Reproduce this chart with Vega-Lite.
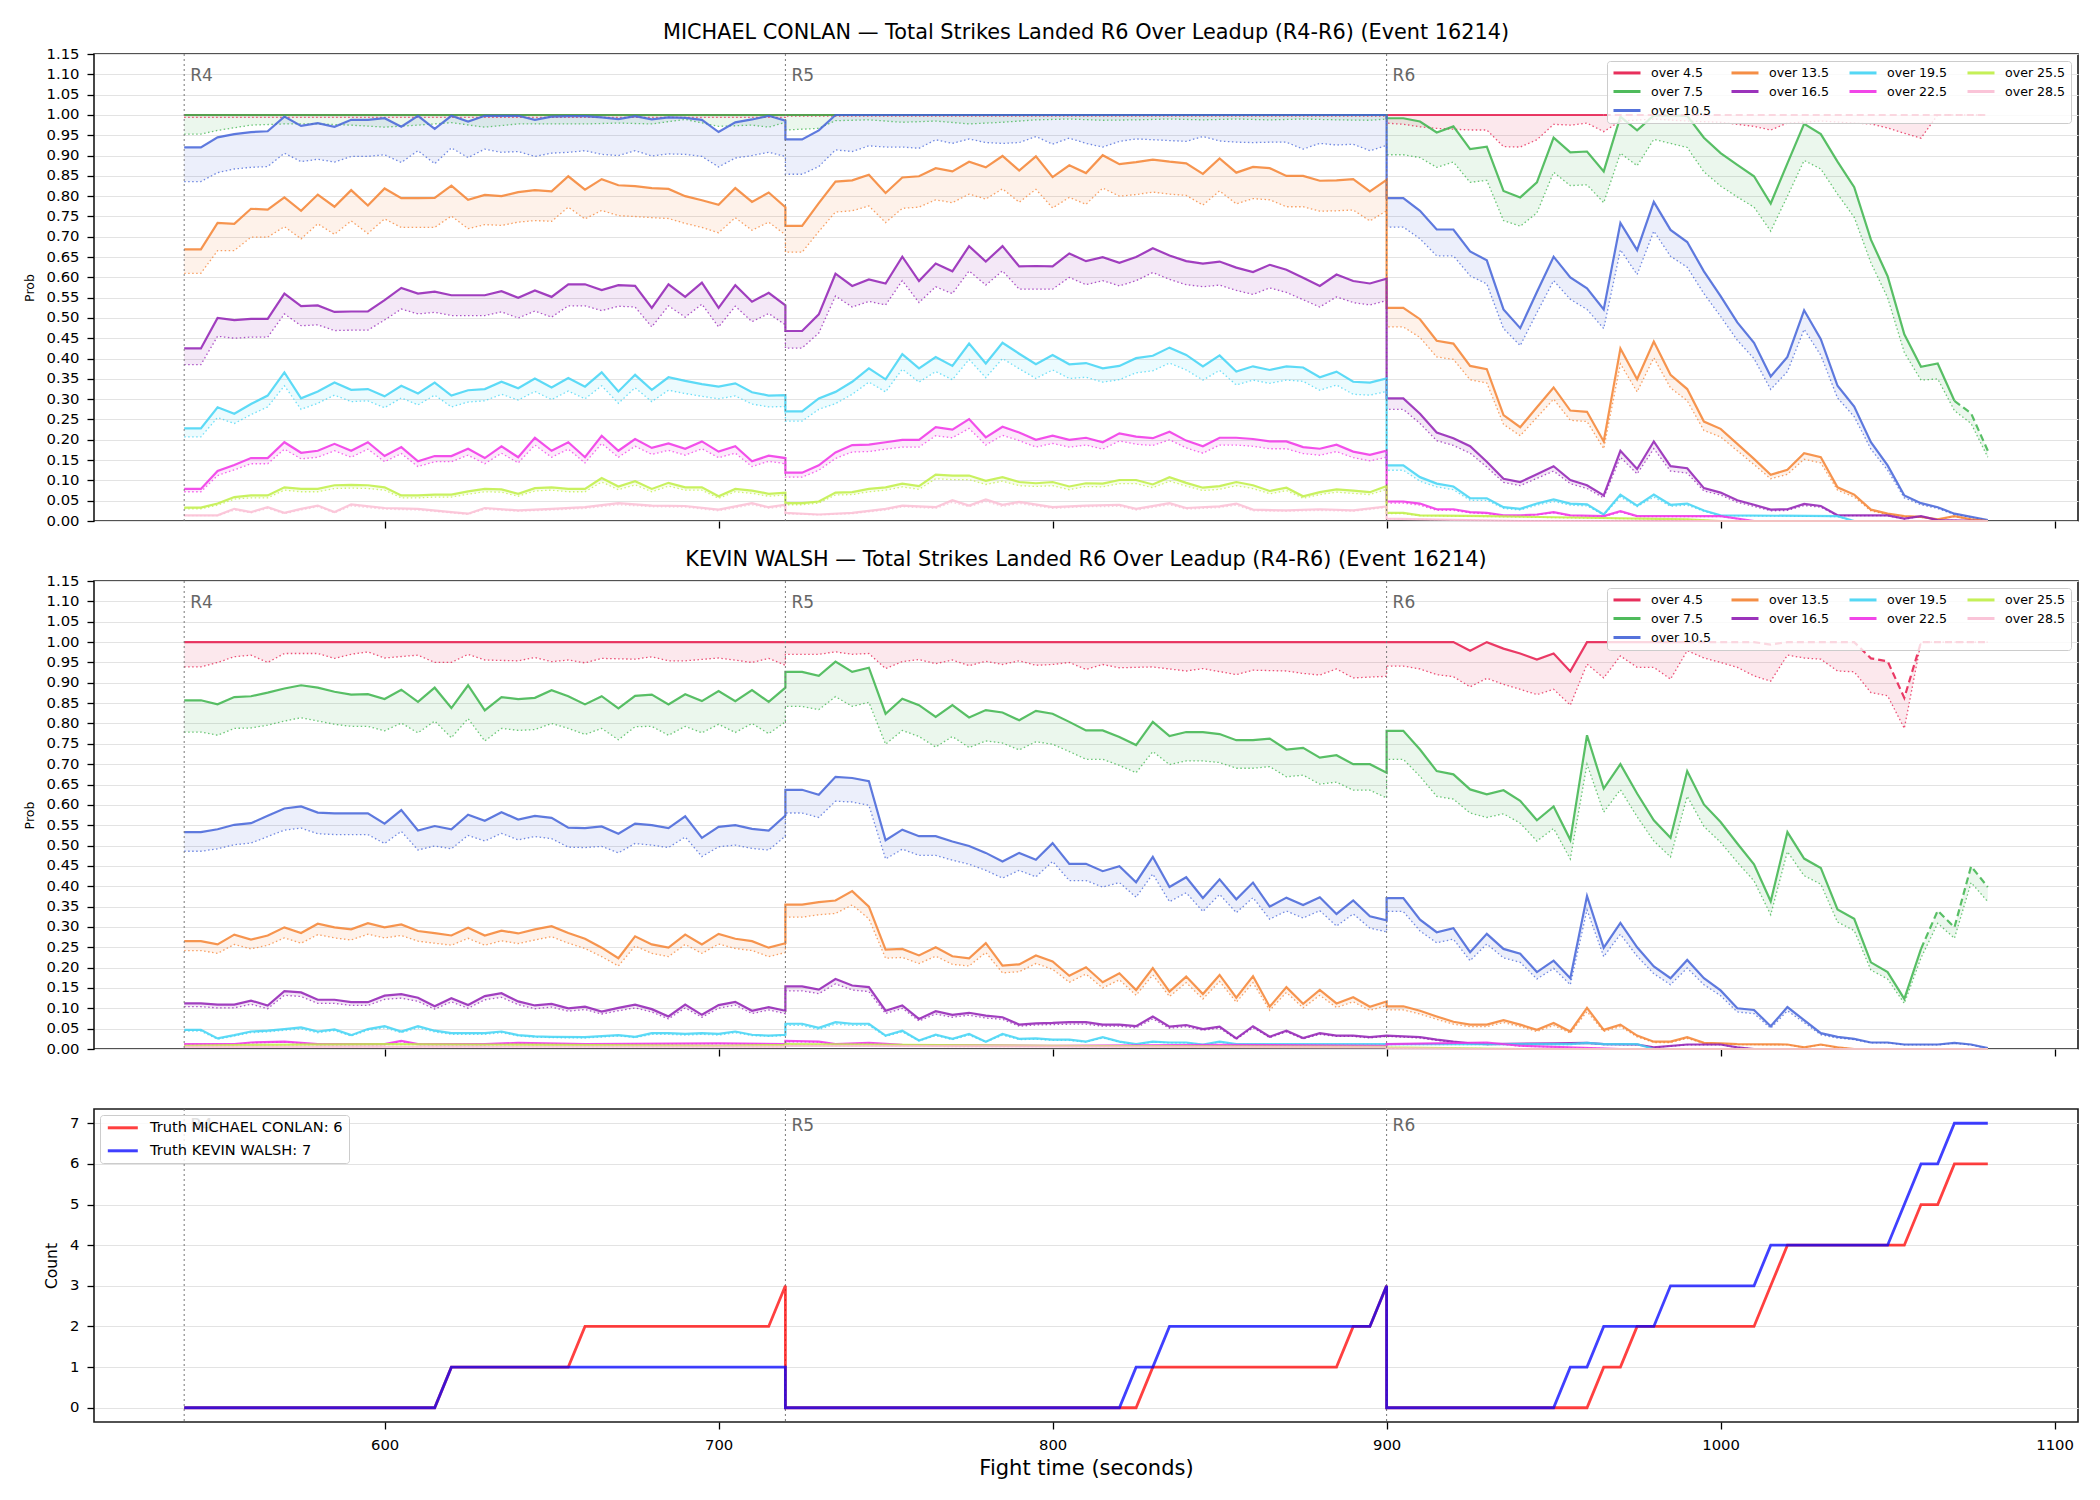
{
"$schema": "https://vega.github.io/schema/vega-lite/v6.json",
"background": "white",
"padding": {"left": 22, "top": 20, "right": 22, "bottom": 20},
"bounds": "flush",
"spacing": 60,
"config": {
  "font": "DejaVu Sans",
  "view": {"stroke": "#1a1a1a", "strokeWidth": 1.6},
  "axis": {"domain": false, "labelFont": "DejaVu Sans", "labelFontSize": 14.8, "labelColor": "#000", "tickColor": "#000", "tickSize": 7, "tickWidth": 1.3, "labelPadding": 8, "gridColor": "#e3e3e3", "gridWidth": 1, "titleFont": "DejaVu Sans", "titleFontWeight": "normal", "titleColor": "#000"},
  "axisY": {"grid": true, "labelOverlap": false, "labelBound": false},
  "axisX": {"grid": false},
  "title": {"fontSize": 20.8, "fontWeight": "normal", "color": "#000", "offset": 2.6, "anchor": "middle", "font": "DejaVu Sans"}
},
"resolve": {"scale": {"fill": "independent", "stroke": "independent"}, "legend": {"stroke": "independent", "fill": "independent"}},
"datasets": {
"rounds": [{"t":540,"r":"R4"},{"t":720,"r":"R5"},{"t":900,"r":"R6"}],
"truth": [
{"w":"Truth MICHAEL CONLAN: 6","t":540,"n":0},{"w":"Truth MICHAEL CONLAN: 6","t":615,"n":0},{"w":"Truth MICHAEL CONLAN: 6","t":620,"n":1},{"w":"Truth MICHAEL CONLAN: 6","t":655,"n":1},{"w":"Truth MICHAEL CONLAN: 6","t":660,"n":2},{"w":"Truth MICHAEL CONLAN: 6","t":715,"n":2},{"w":"Truth MICHAEL CONLAN: 6","t":720,"n":3},{"w":"Truth MICHAEL CONLAN: 6","t":720,"n":0},{"w":"Truth MICHAEL CONLAN: 6","t":825,"n":0},{"w":"Truth MICHAEL CONLAN: 6","t":830,"n":1},{"w":"Truth MICHAEL CONLAN: 6","t":885,"n":1},{"w":"Truth MICHAEL CONLAN: 6","t":890,"n":2},{"w":"Truth MICHAEL CONLAN: 6","t":895,"n":2},{"w":"Truth MICHAEL CONLAN: 6","t":900,"n":3},{"w":"Truth MICHAEL CONLAN: 6","t":900,"n":0},{"w":"Truth MICHAEL CONLAN: 6","t":960,"n":0},{"w":"Truth MICHAEL CONLAN: 6","t":965,"n":1},{"w":"Truth MICHAEL CONLAN: 6","t":970,"n":1},{"w":"Truth MICHAEL CONLAN: 6","t":975,"n":2},{"w":"Truth MICHAEL CONLAN: 6","t":1010,"n":2},{"w":"Truth MICHAEL CONLAN: 6","t":1015,"n":3},{"w":"Truth MICHAEL CONLAN: 6","t":1020,"n":4},{"w":"Truth MICHAEL CONLAN: 6","t":1055,"n":4},{"w":"Truth MICHAEL CONLAN: 6","t":1060,"n":5},{"w":"Truth MICHAEL CONLAN: 6","t":1065,"n":5},{"w":"Truth MICHAEL CONLAN: 6","t":1070,"n":6},{"w":"Truth MICHAEL CONLAN: 6","t":1080,"n":6},
{"w":"Truth KEVIN WALSH: 7","t":540,"n":0},{"w":"Truth KEVIN WALSH: 7","t":615,"n":0},{"w":"Truth KEVIN WALSH: 7","t":620,"n":1},{"w":"Truth KEVIN WALSH: 7","t":720,"n":1},{"w":"Truth KEVIN WALSH: 7","t":720,"n":0},{"w":"Truth KEVIN WALSH: 7","t":820,"n":0},{"w":"Truth KEVIN WALSH: 7","t":825,"n":1},{"w":"Truth KEVIN WALSH: 7","t":830,"n":1},{"w":"Truth KEVIN WALSH: 7","t":835,"n":2},{"w":"Truth KEVIN WALSH: 7","t":895,"n":2},{"w":"Truth KEVIN WALSH: 7","t":900,"n":3},{"w":"Truth KEVIN WALSH: 7","t":900,"n":0},{"w":"Truth KEVIN WALSH: 7","t":950,"n":0},{"w":"Truth KEVIN WALSH: 7","t":955,"n":1},{"w":"Truth KEVIN WALSH: 7","t":960,"n":1},{"w":"Truth KEVIN WALSH: 7","t":965,"n":2},{"w":"Truth KEVIN WALSH: 7","t":980,"n":2},{"w":"Truth KEVIN WALSH: 7","t":985,"n":3},{"w":"Truth KEVIN WALSH: 7","t":1010,"n":3},{"w":"Truth KEVIN WALSH: 7","t":1015,"n":4},{"w":"Truth KEVIN WALSH: 7","t":1050,"n":4},{"w":"Truth KEVIN WALSH: 7","t":1055,"n":5},{"w":"Truth KEVIN WALSH: 7","t":1060,"n":6},{"w":"Truth KEVIN WALSH: 7","t":1065,"n":6},{"w":"Truth KEVIN WALSH: 7","t":1070,"n":7},{"w":"Truth KEVIN WALSH: 7","t":1080,"n":7}
],
"conlan": [
{"k":4.5,"t":540,"h":1,"l":0.994},{"k":4.5,"t":720,"h":1,"l":0.994},{"k":4.5,"t":720,"h":1,"l":0.997},{"k":4.5,"t":900,"h":1,"l":0.997},
{"k":4.5,"t":900,"h":1,"l":0.98},{"k":4.5,"t":905,"h":1,"l":0.977},{"k":4.5,"t":910,"h":1,"l":0.971},{"k":4.5,"t":915,"h":1,"l":0.967},{"k":4.5,"t":920,"h":1,"l":0.965},{"k":4.5,"t":925,"h":1,"l":0.963},{"k":4.5,"t":930,"h":1,"l":0.963},{"k":4.5,"t":935,"h":1,"l":0.922},{"k":4.5,"t":940,"h":1,"l":0.921},{"k":4.5,"t":945,"h":1,"l":0.939},{"k":4.5,"t":950,"h":1,"l":0.977},{"k":4.5,"t":955,"h":1,"l":0.975},{"k":4.5,"t":960,"h":1,"l":0.98},{"k":4.5,"t":965,"h":1,"l":0.959,"d":2},{"k":4.5,"t":970,"h":1,"l":0.985,"d":1},{"k":4.5,"t":980,"h":1,"l":0.99,"d":1},{"k":4.5,"t":990,"h":1,"l":0.985,"d":1},{"k":4.5,"t":1000,"h":1,"l":0.982,"d":1},{"k":4.5,"t":1010,"h":1,"l":0.972,"d":1},{"k":4.5,"t":1015,"h":1,"l":0.963,"d":1},{"k":4.5,"t":1020,"h":1,"l":0.98,"d":1},{"k":4.5,"t":1030,"h":1,"l":0.985,"d":1},{"k":4.5,"t":1040,"h":1,"l":0.98,"d":1},{"k":4.5,"t":1045,"h":1,"l":0.978,"d":1},{"k":4.5,"t":1050,"h":1,"l":0.968,"d":1},{"k":4.5,"t":1055,"h":1,"l":0.955,"d":1},{"k":4.5,"t":1060,"h":1,"l":0.943,"d":1},{"k":4.5,"t":1065,"h":1,"l":1,"d":1},{"k":4.5,"t":1080,"h":1,"l":1,"d":1},
{"k":7.5,"t":540,"h":1,"l":0.953},{"k":7.5,"t":545,"h":1,"l":0.953},{"k":7.5,"t":550,"h":1,"l":0.962},{"k":7.5,"t":560,"h":1,"l":0.975},{"k":7.5,"t":570,"h":1,"l":0.978},{"k":7.5,"t":580,"h":1,"l":0.978},{"k":7.5,"t":590,"h":1,"l":0.975},{"k":7.5,"t":600,"h":1,"l":0.97},{"k":7.5,"t":610,"h":1,"l":0.975},{"k":7.5,"t":620,"h":1,"l":0.981},{"k":7.5,"t":630,"h":1,"l":0.97},{"k":7.5,"t":640,"h":1,"l":0.978},{"k":7.5,"t":650,"h":1,"l":0.978},{"k":7.5,"t":660,"h":1,"l":0.978},{"k":7.5,"t":670,"h":1,"l":0.98},{"k":7.5,"t":680,"h":1,"l":0.978},{"k":7.5,"t":690,"h":1,"l":0.989},{"k":7.5,"t":700,"h":1,"l":0.972},{"k":7.5,"t":710,"h":1,"l":0.975},{"k":7.5,"t":715,"h":1,"l":0.97},{"k":7.5,"t":720,"h":1,"l":0.982},
{"k":7.5,"t":720,"h":1,"l":0.963},{"k":7.5,"t":725,"h":1,"l":0.965},{"k":7.5,"t":730,"h":1,"l":0.967},{"k":7.5,"t":735,"h":1,"l":0.986},{"k":7.5,"t":745,"h":1,"l":0.988},{"k":7.5,"t":755,"h":1,"l":0.982},{"k":7.5,"t":765,"h":1,"l":0.985},{"k":7.5,"t":775,"h":1,"l":0.978},{"k":7.5,"t":785,"h":1,"l":0.982},{"k":7.5,"t":795,"h":1,"l":0.988},{"k":7.5,"t":805,"h":1,"l":0.99},{"k":7.5,"t":815,"h":1,"l":0.987},{"k":7.5,"t":825,"h":1,"l":0.988},{"k":7.5,"t":835,"h":1,"l":0.99},{"k":7.5,"t":845,"h":1,"l":0.988},{"k":7.5,"t":855,"h":1,"l":0.99},{"k":7.5,"t":865,"h":1,"l":0.988},{"k":7.5,"t":875,"h":1,"l":0.99},{"k":7.5,"t":885,"h":1,"l":0.988},{"k":7.5,"t":895,"h":1,"l":0.987},{"k":7.5,"t":900,"h":1,"l":0.99},
{"k":7.5,"t":900,"h":0.992,"l":0.902},{"k":7.5,"t":905,"h":0.992,"l":0.902},{"k":7.5,"t":910,"h":0.984,"l":0.895},{"k":7.5,"t":915,"h":0.957,"l":0.871},{"k":7.5,"t":920,"h":0.972,"l":0.884},{"k":7.5,"t":925,"h":0.916,"l":0.834},{"k":7.5,"t":930,"h":0.922,"l":0.839},{"k":7.5,"t":935,"h":0.813,"l":0.74},{"k":7.5,"t":940,"h":0.797,"l":0.726},{"k":7.5,"t":945,"h":0.834,"l":0.759},{"k":7.5,"t":950,"h":0.944,"l":0.859},{"k":7.5,"t":955,"h":0.908,"l":0.826},{"k":7.5,"t":960,"h":0.91,"l":0.828},{"k":7.5,"t":965,"h":0.861,"l":0.784},{"k":7.5,"t":970,"h":0.996,"l":0.906},{"k":7.5,"t":975,"h":0.962,"l":0.875},{"k":7.5,"t":980,"h":0.999,"l":0.94},{"k":7.5,"t":985,"h":0.999,"l":0.93},{"k":7.5,"t":990,"h":0.998,"l":0.92},{"k":7.5,"t":995,"h":0.944,"l":0.86},{"k":7.5,"t":1000,"h":0.906,"l":0.825},{"k":7.5,"t":1005,"h":0.877,"l":0.798},{"k":7.5,"t":1010,"h":0.849,"l":0.773},{"k":7.5,"t":1015,"h":0.782,"l":0.714},{"k":7.5,"t":1020,"h":0.881,"l":0.8},{"k":7.5,"t":1025,"h":0.978,"l":0.888},{"k":7.5,"t":1030,"h":0.953,"l":0.867},{"k":7.5,"t":1035,"h":0.885,"l":0.805},{"k":7.5,"t":1040,"h":0.822,"l":0.748},{"k":7.5,"t":1045,"h":0.693,"l":0.636},{"k":7.5,"t":1050,"h":0.603,"l":0.55},{"k":7.5,"t":1055,"h":0.46,"l":0.415},{"k":7.5,"t":1060,"h":0.38,"l":0.347},{"k":7.5,"t":1065,"h":0.388,"l":0.35},{"k":7.5,"t":1070,"h":0.296,"l":0.272,"d":2},{"k":7.5,"t":1075,"h":0.265,"l":0.24,"d":1},{"k":7.5,"t":1080,"h":0.173,"l":0.157,"d":1},
{"k":10.5,"t":540,"h":0.92,"l":0.836},{"k":10.5,"t":545,"h":0.92,"l":0.836},{"k":10.5,"t":550,"h":0.945,"l":0.858},{"k":10.5,"t":555,"h":0.953,"l":0.867},{"k":10.5,"t":560,"h":0.958,"l":0.871},{"k":10.5,"t":565,"h":0.96,"l":0.873},{"k":10.5,"t":570,"h":0.996,"l":0.906},{"k":10.5,"t":575,"h":0.973,"l":0.885},{"k":10.5,"t":580,"h":0.98,"l":0.891},{"k":10.5,"t":585,"h":0.971,"l":0.884},{"k":10.5,"t":590,"h":0.988,"l":0.898},{"k":10.5,"t":595,"h":0.988,"l":0.898},{"k":10.5,"t":600,"h":0.992,"l":0.902},{"k":10.5,"t":605,"h":0.971,"l":0.883},{"k":10.5,"t":610,"h":0.998,"l":0.912},{"k":10.5,"t":615,"h":0.966,"l":0.88},{"k":10.5,"t":620,"h":0.998,"l":0.919},{"k":10.5,"t":625,"h":0.984,"l":0.895},{"k":10.5,"t":630,"h":0.998,"l":0.916},{"k":10.5,"t":635,"h":0.998,"l":0.908},{"k":10.5,"t":640,"h":0.998,"l":0.91},{"k":10.5,"t":645,"h":0.988,"l":0.898},{"k":10.5,"t":650,"h":0.996,"l":0.906},{"k":10.5,"t":655,"h":0.997,"l":0.908},{"k":10.5,"t":660,"h":0.997,"l":0.912},{"k":10.5,"t":665,"h":0.994,"l":0.903},{"k":10.5,"t":670,"h":0.99,"l":0.9},{"k":10.5,"t":675,"h":0.997,"l":0.912},{"k":10.5,"t":680,"h":0.989,"l":0.899},{"k":10.5,"t":685,"h":0.994,"l":0.904},{"k":10.5,"t":690,"h":0.993,"l":0.903},{"k":10.5,"t":695,"h":0.988,"l":0.898},{"k":10.5,"t":700,"h":0.958,"l":0.872},{"k":10.5,"t":705,"h":0.982,"l":0.894},{"k":10.5,"t":710,"h":0.989,"l":0.9},{"k":10.5,"t":715,"h":0.998,"l":0.908},{"k":10.5,"t":720,"h":0.986,"l":0.898},
{"k":10.5,"t":720,"h":0.94,"l":0.854},{"k":10.5,"t":725,"h":0.94,"l":0.854},{"k":10.5,"t":730,"h":0.962,"l":0.873},{"k":10.5,"t":735,"h":1,"l":0.914},{"k":10.5,"t":740,"h":1,"l":0.91},{"k":10.5,"t":745,"h":1,"l":0.924},{"k":10.5,"t":750,"h":1,"l":0.921},{"k":10.5,"t":755,"h":1,"l":0.921},{"k":10.5,"t":760,"h":1,"l":0.918},{"k":10.5,"t":765,"h":1,"l":0.939},{"k":10.5,"t":770,"h":1,"l":0.93},{"k":10.5,"t":775,"h":1,"l":0.941},{"k":10.5,"t":780,"h":1,"l":0.932},{"k":10.5,"t":785,"h":1,"l":0.93},{"k":10.5,"t":790,"h":1,"l":0.932},{"k":10.5,"t":795,"h":1,"l":0.947},{"k":10.5,"t":800,"h":1,"l":0.928},{"k":10.5,"t":805,"h":1,"l":0.943},{"k":10.5,"t":810,"h":1,"l":0.93},{"k":10.5,"t":815,"h":1,"l":0.921},{"k":10.5,"t":820,"h":1,"l":0.935},{"k":10.5,"t":825,"h":1,"l":0.941},{"k":10.5,"t":830,"h":1,"l":0.939},{"k":10.5,"t":835,"h":1,"l":0.937},{"k":10.5,"t":840,"h":1,"l":0.935},{"k":10.5,"t":845,"h":1,"l":0.947},{"k":10.5,"t":850,"h":1,"l":0.936},{"k":10.5,"t":855,"h":1,"l":0.933},{"k":10.5,"t":860,"h":1,"l":0.932},{"k":10.5,"t":865,"h":1,"l":0.933},{"k":10.5,"t":870,"h":1,"l":0.933},{"k":10.5,"t":875,"h":1,"l":0.916},{"k":10.5,"t":880,"h":1,"l":0.93},{"k":10.5,"t":885,"h":1,"l":0.926},{"k":10.5,"t":890,"h":1,"l":0.928},{"k":10.5,"t":895,"h":1,"l":0.912},{"k":10.5,"t":900,"h":1,"l":0.925},
{"k":10.5,"t":900,"h":0.795,"l":0.724},{"k":10.5,"t":905,"h":0.795,"l":0.724},{"k":10.5,"t":910,"h":0.764,"l":0.695},{"k":10.5,"t":915,"h":0.718,"l":0.653},{"k":10.5,"t":920,"h":0.718,"l":0.653},{"k":10.5,"t":925,"h":0.664,"l":0.604},{"k":10.5,"t":930,"h":0.642,"l":0.584},{"k":10.5,"t":935,"h":0.521,"l":0.474},{"k":10.5,"t":940,"h":0.475,"l":0.432},{"k":10.5,"t":945,"h":0.564,"l":0.513},{"k":10.5,"t":950,"h":0.651,"l":0.592},{"k":10.5,"t":955,"h":0.6,"l":0.546},{"k":10.5,"t":960,"h":0.573,"l":0.521},{"k":10.5,"t":965,"h":0.521,"l":0.474},{"k":10.5,"t":970,"h":0.734,"l":0.668},{"k":10.5,"t":975,"h":0.667,"l":0.607},{"k":10.5,"t":980,"h":0.786,"l":0.714},{"k":10.5,"t":985,"h":0.717,"l":0.652},{"k":10.5,"t":990,"h":0.687,"l":0.625},{"k":10.5,"t":995,"h":0.615,"l":0.56},{"k":10.5,"t":1000,"h":0.554,"l":0.504},{"k":10.5,"t":1005,"h":0.489,"l":0.445},{"k":10.5,"t":1010,"h":0.439,"l":0.4},{"k":10.5,"t":1015,"h":0.356,"l":0.324},{"k":10.5,"t":1020,"h":0.404,"l":0.368},{"k":10.5,"t":1025,"h":0.519,"l":0.472},{"k":10.5,"t":1030,"h":0.448,"l":0.408},{"k":10.5,"t":1035,"h":0.333,"l":0.303},{"k":10.5,"t":1040,"h":0.282,"l":0.257},{"k":10.5,"t":1045,"h":0.194,"l":0.177},{"k":10.5,"t":1050,"h":0.137,"l":0.125},{"k":10.5,"t":1055,"h":0.063,"l":0.057},{"k":10.5,"t":1060,"h":0.044,"l":0.04},{"k":10.5,"t":1065,"h":0.034,"l":0.031},{"k":10.5,"t":1070,"h":0.018,"l":0.016},{"k":10.5,"t":1075,"h":0.01,"l":0.009},{"k":10.5,"t":1080,"h":0.002,"l":0.002},
{"k":13.5,"t":540,"h":0.669,"l":0.61},{"k":13.5,"t":545,"h":0.669,"l":0.61},{"k":13.5,"t":550,"h":0.734,"l":0.666},{"k":13.5,"t":555,"h":0.732,"l":0.666},{"k":13.5,"t":560,"h":0.769,"l":0.699},{"k":13.5,"t":565,"h":0.767,"l":0.699},{"k":13.5,"t":570,"h":0.797,"l":0.725},{"k":13.5,"t":575,"h":0.764,"l":0.695},{"k":13.5,"t":580,"h":0.804,"l":0.732},{"k":13.5,"t":585,"h":0.774,"l":0.706},{"k":13.5,"t":590,"h":0.815,"l":0.739},{"k":13.5,"t":595,"h":0.777,"l":0.708},{"k":13.5,"t":600,"h":0.819,"l":0.744},{"k":13.5,"t":605,"h":0.795,"l":0.723},{"k":13.5,"t":610,"h":0.795,"l":0.723},{"k":13.5,"t":615,"h":0.796,"l":0.723},{"k":13.5,"t":620,"h":0.826,"l":0.751},{"k":13.5,"t":625,"h":0.791,"l":0.72},{"k":13.5,"t":630,"h":0.803,"l":0.73},{"k":13.5,"t":635,"h":0.8,"l":0.728},{"k":13.5,"t":640,"h":0.81,"l":0.736},{"k":13.5,"t":645,"h":0.815,"l":0.74},{"k":13.5,"t":650,"h":0.812,"l":0.738},{"k":13.5,"t":655,"h":0.849,"l":0.773},{"k":13.5,"t":660,"h":0.816,"l":0.744},{"k":13.5,"t":665,"h":0.842,"l":0.765},{"k":13.5,"t":670,"h":0.827,"l":0.752},{"k":13.5,"t":675,"h":0.825,"l":0.75},{"k":13.5,"t":680,"h":0.82,"l":0.747},{"k":13.5,"t":685,"h":0.818,"l":0.745},{"k":13.5,"t":690,"h":0.8,"l":0.733},{"k":13.5,"t":695,"h":0.79,"l":0.723},{"k":13.5,"t":700,"h":0.779,"l":0.71},{"k":13.5,"t":705,"h":0.82,"l":0.747},{"k":13.5,"t":710,"h":0.786,"l":0.716},{"k":13.5,"t":715,"h":0.809,"l":0.736},{"k":13.5,"t":720,"h":0.773,"l":0.705},
{"k":13.5,"t":720,"h":0.727,"l":0.662},{"k":13.5,"t":725,"h":0.727,"l":0.662},{"k":13.5,"t":730,"h":0.783,"l":0.713},{"k":13.5,"t":735,"h":0.836,"l":0.761},{"k":13.5,"t":740,"h":0.839,"l":0.764},{"k":13.5,"t":745,"h":0.853,"l":0.776},{"k":13.5,"t":750,"h":0.808,"l":0.735},{"k":13.5,"t":755,"h":0.846,"l":0.77},{"k":13.5,"t":760,"h":0.849,"l":0.773},{"k":13.5,"t":765,"h":0.869,"l":0.791},{"k":13.5,"t":770,"h":0.861,"l":0.784},{"k":13.5,"t":775,"h":0.885,"l":0.805},{"k":13.5,"t":780,"h":0.871,"l":0.793},{"k":13.5,"t":785,"h":0.899,"l":0.818},{"k":13.5,"t":790,"h":0.863,"l":0.785},{"k":13.5,"t":795,"h":0.898,"l":0.817},{"k":13.5,"t":800,"h":0.847,"l":0.771},{"k":13.5,"t":805,"h":0.876,"l":0.797},{"k":13.5,"t":810,"h":0.857,"l":0.78},{"k":13.5,"t":815,"h":0.901,"l":0.82},{"k":13.5,"t":820,"h":0.879,"l":0.8},{"k":13.5,"t":825,"h":0.884,"l":0.804},{"k":13.5,"t":830,"h":0.89,"l":0.81},{"k":13.5,"t":835,"h":0.885,"l":0.805},{"k":13.5,"t":840,"h":0.881,"l":0.802},{"k":13.5,"t":845,"h":0.855,"l":0.778},{"k":13.5,"t":850,"h":0.893,"l":0.813},{"k":13.5,"t":855,"h":0.858,"l":0.781},{"k":13.5,"t":860,"h":0.872,"l":0.794},{"k":13.5,"t":865,"h":0.869,"l":0.791},{"k":13.5,"t":870,"h":0.85,"l":0.774},{"k":13.5,"t":875,"h":0.85,"l":0.774},{"k":13.5,"t":880,"h":0.838,"l":0.763},{"k":13.5,"t":885,"h":0.839,"l":0.764},{"k":13.5,"t":890,"h":0.842,"l":0.766},{"k":13.5,"t":895,"h":0.812,"l":0.739},{"k":13.5,"t":900,"h":0.84,"l":0.764},
{"k":13.5,"t":900,"h":0.525,"l":0.478},{"k":13.5,"t":905,"h":0.525,"l":0.478},{"k":13.5,"t":910,"h":0.497,"l":0.452},{"k":13.5,"t":915,"h":0.444,"l":0.404},{"k":13.5,"t":920,"h":0.437,"l":0.398},{"k":13.5,"t":925,"h":0.382,"l":0.348},{"k":13.5,"t":930,"h":0.374,"l":0.34},{"k":13.5,"t":935,"h":0.261,"l":0.238},{"k":13.5,"t":940,"h":0.231,"l":0.21},{"k":13.5,"t":945,"h":0.28,"l":0.255},{"k":13.5,"t":950,"h":0.329,"l":0.3},{"k":13.5,"t":955,"h":0.272,"l":0.248},{"k":13.5,"t":960,"h":0.269,"l":0.245},{"k":13.5,"t":965,"h":0.196,"l":0.178},{"k":13.5,"t":970,"h":0.425,"l":0.387},{"k":13.5,"t":975,"h":0.349,"l":0.318},{"k":13.5,"t":980,"h":0.442,"l":0.402},{"k":13.5,"t":985,"h":0.36,"l":0.328},{"k":13.5,"t":990,"h":0.325,"l":0.296},{"k":13.5,"t":995,"h":0.245,"l":0.223},{"k":13.5,"t":1000,"h":0.227,"l":0.207},{"k":13.5,"t":1005,"h":0.19,"l":0.173},{"k":13.5,"t":1010,"h":0.153,"l":0.139},{"k":13.5,"t":1015,"h":0.114,"l":0.104},{"k":13.5,"t":1020,"h":0.126,"l":0.115},{"k":13.5,"t":1025,"h":0.167,"l":0.152},{"k":13.5,"t":1030,"h":0.157,"l":0.143},{"k":13.5,"t":1035,"h":0.083,"l":0.076},{"k":13.5,"t":1040,"h":0.065,"l":0.059},{"k":13.5,"t":1045,"h":0.028,"l":0.025},{"k":13.5,"t":1050,"h":0.018,"l":0.016},{"k":13.5,"t":1055,"h":0.012,"l":0.011},{"k":13.5,"t":1060,"h":0.01,"l":0.009},{"k":13.5,"t":1065,"h":0.004,"l":0.004},{"k":13.5,"t":1070,"h":0.012,"l":0.011},{"k":13.5,"t":1075,"h":0.004,"l":0.004},{"k":13.5,"t":1080,"h":0,"l":0},
{"k":16.5,"t":540,"h":0.425,"l":0.385},{"k":16.5,"t":545,"h":0.425,"l":0.385},{"k":16.5,"t":550,"h":0.5,"l":0.455},{"k":16.5,"t":555,"h":0.495,"l":0.45},{"k":16.5,"t":560,"h":0.498,"l":0.453},{"k":16.5,"t":565,"h":0.498,"l":0.453},{"k":16.5,"t":570,"h":0.56,"l":0.51},{"k":16.5,"t":575,"h":0.529,"l":0.481},{"k":16.5,"t":580,"h":0.531,"l":0.483},{"k":16.5,"t":585,"h":0.515,"l":0.469},{"k":16.5,"t":590,"h":0.516,"l":0.47},{"k":16.5,"t":595,"h":0.516,"l":0.47},{"k":16.5,"t":600,"h":0.544,"l":0.495},{"k":16.5,"t":605,"h":0.574,"l":0.522},{"k":16.5,"t":610,"h":0.56,"l":0.51},{"k":16.5,"t":615,"h":0.565,"l":0.514},{"k":16.5,"t":620,"h":0.556,"l":0.506},{"k":16.5,"t":625,"h":0.556,"l":0.506},{"k":16.5,"t":630,"h":0.556,"l":0.506},{"k":16.5,"t":635,"h":0.566,"l":0.515},{"k":16.5,"t":640,"h":0.55,"l":0.5},{"k":16.5,"t":645,"h":0.568,"l":0.517},{"k":16.5,"t":650,"h":0.552,"l":0.502},{"k":16.5,"t":655,"h":0.583,"l":0.53},{"k":16.5,"t":660,"h":0.583,"l":0.53},{"k":16.5,"t":665,"h":0.569,"l":0.518},{"k":16.5,"t":670,"h":0.581,"l":0.529},{"k":16.5,"t":675,"h":0.579,"l":0.527},{"k":16.5,"t":680,"h":0.525,"l":0.478},{"k":16.5,"t":685,"h":0.583,"l":0.53},{"k":16.5,"t":690,"h":0.552,"l":0.502},{"k":16.5,"t":695,"h":0.587,"l":0.534},{"k":16.5,"t":700,"h":0.525,"l":0.478},{"k":16.5,"t":705,"h":0.581,"l":0.529},{"k":16.5,"t":710,"h":0.54,"l":0.491},{"k":16.5,"t":715,"h":0.562,"l":0.511},{"k":16.5,"t":720,"h":0.531,"l":0.483},
{"k":16.5,"t":720,"h":0.468,"l":0.426},{"k":16.5,"t":725,"h":0.468,"l":0.426},{"k":16.5,"t":730,"h":0.509,"l":0.463},{"k":16.5,"t":735,"h":0.609,"l":0.554},{"k":16.5,"t":740,"h":0.579,"l":0.527},{"k":16.5,"t":745,"h":0.595,"l":0.541},{"k":16.5,"t":750,"h":0.585,"l":0.532},{"k":16.5,"t":755,"h":0.651,"l":0.592},{"k":16.5,"t":760,"h":0.591,"l":0.538},{"k":16.5,"t":765,"h":0.634,"l":0.577},{"k":16.5,"t":770,"h":0.615,"l":0.56},{"k":16.5,"t":775,"h":0.677,"l":0.616},{"k":16.5,"t":780,"h":0.639,"l":0.581},{"k":16.5,"t":785,"h":0.677,"l":0.616},{"k":16.5,"t":790,"h":0.627,"l":0.571},{"k":16.5,"t":795,"h":0.628,"l":0.571},{"k":16.5,"t":800,"h":0.627,"l":0.571},{"k":16.5,"t":805,"h":0.659,"l":0.6},{"k":16.5,"t":810,"h":0.64,"l":0.582},{"k":16.5,"t":815,"h":0.65,"l":0.592},{"k":16.5,"t":820,"h":0.636,"l":0.579},{"k":16.5,"t":825,"h":0.65,"l":0.592},{"k":16.5,"t":830,"h":0.672,"l":0.612},{"k":16.5,"t":835,"h":0.654,"l":0.595},{"k":16.5,"t":840,"h":0.64,"l":0.582},{"k":16.5,"t":845,"h":0.634,"l":0.577},{"k":16.5,"t":850,"h":0.639,"l":0.581},{"k":16.5,"t":855,"h":0.624,"l":0.568},{"k":16.5,"t":860,"h":0.613,"l":0.558},{"k":16.5,"t":865,"h":0.631,"l":0.574},{"k":16.5,"t":870,"h":0.619,"l":0.563},{"k":16.5,"t":875,"h":0.599,"l":0.545},{"k":16.5,"t":880,"h":0.579,"l":0.527},{"k":16.5,"t":885,"h":0.607,"l":0.552},{"k":16.5,"t":890,"h":0.591,"l":0.538},{"k":16.5,"t":895,"h":0.585,"l":0.532},{"k":16.5,"t":900,"h":0.597,"l":0.543},
{"k":16.5,"t":900,"h":0.302,"l":0.275},{"k":16.5,"t":905,"h":0.302,"l":0.275},{"k":16.5,"t":910,"h":0.264,"l":0.24},{"k":16.5,"t":915,"h":0.218,"l":0.198},{"k":16.5,"t":920,"h":0.204,"l":0.186},{"k":16.5,"t":925,"h":0.184,"l":0.167},{"k":16.5,"t":930,"h":0.146,"l":0.133},{"k":16.5,"t":935,"h":0.104,"l":0.095},{"k":16.5,"t":940,"h":0.096,"l":0.087},{"k":16.5,"t":945,"h":0.115,"l":0.105},{"k":16.5,"t":950,"h":0.135,"l":0.123},{"k":16.5,"t":955,"h":0.101,"l":0.092},{"k":16.5,"t":960,"h":0.088,"l":0.08},{"k":16.5,"t":965,"h":0.063,"l":0.057},{"k":16.5,"t":970,"h":0.173,"l":0.157},{"k":16.5,"t":975,"h":0.128,"l":0.116},{"k":16.5,"t":980,"h":0.196,"l":0.178},{"k":16.5,"t":985,"h":0.135,"l":0.123},{"k":16.5,"t":990,"h":0.13,"l":0.118},{"k":16.5,"t":995,"h":0.081,"l":0.074},{"k":16.5,"t":1000,"h":0.07,"l":0.064},{"k":16.5,"t":1005,"h":0.051,"l":0.046},{"k":16.5,"t":1010,"h":0.04,"l":0.036},{"k":16.5,"t":1015,"h":0.028,"l":0.025},{"k":16.5,"t":1020,"h":0.029,"l":0.026},{"k":16.5,"t":1025,"h":0.042,"l":0.038},{"k":16.5,"t":1030,"h":0.037,"l":0.034},{"k":16.5,"t":1035,"h":0.014,"l":0.013},{"k":16.5,"t":1050,"h":0.014,"l":0.013},{"k":16.5,"t":1055,"h":0.006,"l":0.005},{"k":16.5,"t":1060,"h":0.012,"l":0.011},{"k":16.5,"t":1065,"h":0.002,"l":0.002},{"k":16.5,"t":1080,"h":0,"l":0},
{"k":19.5,"t":540,"h":0.228,"l":0.207},{"k":19.5,"t":545,"h":0.228,"l":0.207},{"k":19.5,"t":550,"h":0.28,"l":0.255},{"k":19.5,"t":555,"h":0.264,"l":0.24},{"k":19.5,"t":560,"h":0.288,"l":0.262},{"k":19.5,"t":565,"h":0.309,"l":0.281},{"k":19.5,"t":570,"h":0.366,"l":0.333},{"k":19.5,"t":575,"h":0.302,"l":0.275},{"k":19.5,"t":580,"h":0.319,"l":0.29},{"k":19.5,"t":585,"h":0.341,"l":0.31},{"k":19.5,"t":590,"h":0.323,"l":0.294},{"k":19.5,"t":595,"h":0.325,"l":0.296},{"k":19.5,"t":600,"h":0.307,"l":0.279},{"k":19.5,"t":605,"h":0.333,"l":0.303},{"k":19.5,"t":610,"h":0.314,"l":0.286},{"k":19.5,"t":615,"h":0.341,"l":0.31},{"k":19.5,"t":620,"h":0.309,"l":0.281},{"k":19.5,"t":625,"h":0.322,"l":0.293},{"k":19.5,"t":630,"h":0.325,"l":0.296},{"k":19.5,"t":635,"h":0.343,"l":0.312},{"k":19.5,"t":640,"h":0.327,"l":0.298},{"k":19.5,"t":645,"h":0.351,"l":0.319},{"k":19.5,"t":650,"h":0.329,"l":0.299},{"k":19.5,"t":655,"h":0.352,"l":0.32},{"k":19.5,"t":660,"h":0.331,"l":0.301},{"k":19.5,"t":665,"h":0.366,"l":0.333},{"k":19.5,"t":670,"h":0.319,"l":0.29},{"k":19.5,"t":675,"h":0.36,"l":0.328},{"k":19.5,"t":680,"h":0.323,"l":0.294},{"k":19.5,"t":685,"h":0.354,"l":0.322},{"k":19.5,"t":690,"h":0.345,"l":0.314},{"k":19.5,"t":695,"h":0.337,"l":0.307},{"k":19.5,"t":700,"h":0.331,"l":0.301},{"k":19.5,"t":705,"h":0.339,"l":0.308},{"k":19.5,"t":710,"h":0.317,"l":0.288},{"k":19.5,"t":715,"h":0.309,"l":0.281},{"k":19.5,"t":720,"h":0.31,"l":0.282},
{"k":19.5,"t":720,"h":0.27,"l":0.246},{"k":19.5,"t":725,"h":0.27,"l":0.246},{"k":19.5,"t":730,"h":0.302,"l":0.275},{"k":19.5,"t":735,"h":0.318,"l":0.289},{"k":19.5,"t":740,"h":0.343,"l":0.312},{"k":19.5,"t":745,"h":0.376,"l":0.342},{"k":19.5,"t":750,"h":0.349,"l":0.318},{"k":19.5,"t":755,"h":0.411,"l":0.374},{"k":19.5,"t":760,"h":0.376,"l":0.342},{"k":19.5,"t":765,"h":0.404,"l":0.368},{"k":19.5,"t":770,"h":0.382,"l":0.348},{"k":19.5,"t":775,"h":0.437,"l":0.398},{"k":19.5,"t":780,"h":0.388,"l":0.353},{"k":19.5,"t":785,"h":0.439,"l":0.4},{"k":19.5,"t":790,"h":0.412,"l":0.375},{"k":19.5,"t":795,"h":0.386,"l":0.351},{"k":19.5,"t":800,"h":0.409,"l":0.372},{"k":19.5,"t":805,"h":0.386,"l":0.351},{"k":19.5,"t":810,"h":0.389,"l":0.354},{"k":19.5,"t":815,"h":0.376,"l":0.342},{"k":19.5,"t":820,"h":0.382,"l":0.348},{"k":19.5,"t":825,"h":0.401,"l":0.365},{"k":19.5,"t":830,"h":0.407,"l":0.37},{"k":19.5,"t":835,"h":0.427,"l":0.389},{"k":19.5,"t":840,"h":0.409,"l":0.372},{"k":19.5,"t":845,"h":0.381,"l":0.347},{"k":19.5,"t":850,"h":0.408,"l":0.371},{"k":19.5,"t":855,"h":0.368,"l":0.335},{"k":19.5,"t":860,"h":0.381,"l":0.347},{"k":19.5,"t":865,"h":0.372,"l":0.339},{"k":19.5,"t":870,"h":0.381,"l":0.347},{"k":19.5,"t":875,"h":0.378,"l":0.344},{"k":19.5,"t":880,"h":0.354,"l":0.322},{"k":19.5,"t":885,"h":0.368,"l":0.335},{"k":19.5,"t":890,"h":0.343,"l":0.312},{"k":19.5,"t":895,"h":0.341,"l":0.31},{"k":19.5,"t":900,"h":0.351,"l":0.319},
{"k":19.5,"t":900,"h":0.137,"l":0.125},{"k":19.5,"t":905,"h":0.137,"l":0.125},{"k":19.5,"t":910,"h":0.108,"l":0.098},{"k":19.5,"t":915,"h":0.092,"l":0.084},{"k":19.5,"t":920,"h":0.085,"l":0.077},{"k":19.5,"t":925,"h":0.056,"l":0.051},{"k":19.5,"t":930,"h":0.056,"l":0.051},{"k":19.5,"t":935,"h":0.034,"l":0.031},{"k":19.5,"t":940,"h":0.03,"l":0.027},{"k":19.5,"t":945,"h":0.043,"l":0.039},{"k":19.5,"t":950,"h":0.053,"l":0.048},{"k":19.5,"t":955,"h":0.043,"l":0.039},{"k":19.5,"t":960,"h":0.041,"l":0.037},{"k":19.5,"t":965,"h":0.016,"l":0.015},{"k":19.5,"t":970,"h":0.065,"l":0.059},{"k":19.5,"t":975,"h":0.038,"l":0.035},{"k":19.5,"t":980,"h":0.065,"l":0.059},{"k":19.5,"t":985,"h":0.04,"l":0.036},{"k":19.5,"t":990,"h":0.043,"l":0.039},{"k":19.5,"t":995,"h":0.026,"l":0.024},{"k":19.5,"t":1000,"h":0.014,"l":0.013},{"k":19.5,"t":1035,"h":0.012,"l":0.011},{"k":19.5,"t":1040,"h":0,"l":0},{"k":19.5,"t":1080,"h":0,"l":0},
{"k":22.5,"t":540,"h":0.079,"l":0.072},{"k":22.5,"t":545,"h":0.079,"l":0.072},{"k":22.5,"t":550,"h":0.123,"l":0.112},{"k":22.5,"t":555,"h":0.138,"l":0.126},{"k":22.5,"t":560,"h":0.155,"l":0.141},{"k":22.5,"t":565,"h":0.155,"l":0.141},{"k":22.5,"t":570,"h":0.194,"l":0.177},{"k":22.5,"t":575,"h":0.168,"l":0.153},{"k":22.5,"t":580,"h":0.173,"l":0.157},{"k":22.5,"t":585,"h":0.19,"l":0.173},{"k":22.5,"t":590,"h":0.173,"l":0.157},{"k":22.5,"t":595,"h":0.194,"l":0.177},{"k":22.5,"t":600,"h":0.16,"l":0.146},{"k":22.5,"t":605,"h":0.182,"l":0.166},{"k":22.5,"t":610,"h":0.147,"l":0.134},{"k":22.5,"t":615,"h":0.16,"l":0.146},{"k":22.5,"t":620,"h":0.16,"l":0.146},{"k":22.5,"t":625,"h":0.178,"l":0.162},{"k":22.5,"t":630,"h":0.155,"l":0.141},{"k":22.5,"t":635,"h":0.184,"l":0.167},{"k":22.5,"t":640,"h":0.157,"l":0.143},{"k":22.5,"t":645,"h":0.205,"l":0.187},{"k":22.5,"t":650,"h":0.173,"l":0.157},{"k":22.5,"t":655,"h":0.194,"l":0.177},{"k":22.5,"t":660,"h":0.157,"l":0.143},{"k":22.5,"t":665,"h":0.21,"l":0.191},{"k":22.5,"t":670,"h":0.173,"l":0.157},{"k":22.5,"t":675,"h":0.202,"l":0.184},{"k":22.5,"t":680,"h":0.18,"l":0.164},{"k":22.5,"t":685,"h":0.191,"l":0.174},{"k":22.5,"t":690,"h":0.178,"l":0.162},{"k":22.5,"t":695,"h":0.196,"l":0.178},{"k":22.5,"t":700,"h":0.171,"l":0.156},{"k":22.5,"t":705,"h":0.184,"l":0.167},{"k":22.5,"t":710,"h":0.147,"l":0.134},{"k":22.5,"t":715,"h":0.161,"l":0.147},{"k":22.5,"t":720,"h":0.155,"l":0.141},
{"k":22.5,"t":720,"h":0.119,"l":0.108},{"k":22.5,"t":725,"h":0.119,"l":0.108},{"k":22.5,"t":730,"h":0.137,"l":0.125},{"k":22.5,"t":735,"h":0.169,"l":0.154},{"k":22.5,"t":740,"h":0.187,"l":0.17},{"k":22.5,"t":745,"h":0.188,"l":0.171},{"k":22.5,"t":750,"h":0.194,"l":0.177},{"k":22.5,"t":755,"h":0.2,"l":0.182},{"k":22.5,"t":760,"h":0.2,"l":0.182},{"k":22.5,"t":765,"h":0.231,"l":0.21},{"k":22.5,"t":770,"h":0.225,"l":0.205},{"k":22.5,"t":775,"h":0.251,"l":0.228},{"k":22.5,"t":780,"h":0.206,"l":0.187},{"k":22.5,"t":785,"h":0.232,"l":0.211},{"k":22.5,"t":790,"h":0.218,"l":0.198},{"k":22.5,"t":795,"h":0.2,"l":0.182},{"k":22.5,"t":800,"h":0.21,"l":0.191},{"k":22.5,"t":805,"h":0.2,"l":0.182},{"k":22.5,"t":810,"h":0.205,"l":0.187},{"k":22.5,"t":815,"h":0.194,"l":0.177},{"k":22.5,"t":820,"h":0.216,"l":0.197},{"k":22.5,"t":825,"h":0.208,"l":0.189},{"k":22.5,"t":830,"h":0.204,"l":0.186},{"k":22.5,"t":835,"h":0.22,"l":0.2},{"k":22.5,"t":840,"h":0.198,"l":0.18},{"k":22.5,"t":845,"h":0.184,"l":0.167},{"k":22.5,"t":850,"h":0.205,"l":0.187},{"k":22.5,"t":855,"h":0.205,"l":0.187},{"k":22.5,"t":860,"h":0.202,"l":0.184},{"k":22.5,"t":865,"h":0.196,"l":0.178},{"k":22.5,"t":870,"h":0.196,"l":0.178},{"k":22.5,"t":875,"h":0.182,"l":0.166},{"k":22.5,"t":880,"h":0.178,"l":0.162},{"k":22.5,"t":885,"h":0.188,"l":0.171},{"k":22.5,"t":890,"h":0.171,"l":0.156},{"k":22.5,"t":895,"h":0.163,"l":0.148},{"k":22.5,"t":900,"h":0.173,"l":0.157},
{"k":22.5,"t":900,"h":0.048,"l":0.044},{"k":22.5,"t":905,"h":0.048,"l":0.044},{"k":22.5,"t":910,"h":0.043,"l":0.039},{"k":22.5,"t":915,"h":0.029,"l":0.026},{"k":22.5,"t":920,"h":0.029,"l":0.026},{"k":22.5,"t":925,"h":0.022,"l":0.02},{"k":22.5,"t":930,"h":0.02,"l":0.018},{"k":22.5,"t":935,"h":0.014,"l":0.013},{"k":22.5,"t":940,"h":0.014,"l":0.013},{"k":22.5,"t":945,"h":0.016,"l":0.015},{"k":22.5,"t":950,"h":0.022,"l":0.02},{"k":22.5,"t":955,"h":0.014,"l":0.013},{"k":22.5,"t":965,"h":0.012,"l":0.011},{"k":22.5,"t":970,"h":0.024,"l":0.022},{"k":22.5,"t":975,"h":0.012,"l":0.011},{"k":22.5,"t":1000,"h":0.012,"l":0.011},{"k":22.5,"t":1010,"h":0,"l":0},{"k":22.5,"t":1080,"h":0,"l":0},
{"k":25.5,"t":540,"h":0.033,"l":0.03},{"k":25.5,"t":545,"h":0.033,"l":0.03},{"k":25.5,"t":550,"h":0.043,"l":0.039},{"k":25.5,"t":555,"h":0.059,"l":0.054},{"k":25.5,"t":560,"h":0.063,"l":0.057},{"k":25.5,"t":565,"h":0.063,"l":0.057},{"k":25.5,"t":570,"h":0.083,"l":0.076},{"k":25.5,"t":575,"h":0.079,"l":0.072},{"k":25.5,"t":580,"h":0.079,"l":0.072},{"k":25.5,"t":585,"h":0.088,"l":0.08},{"k":25.5,"t":590,"h":0.089,"l":0.081},{"k":25.5,"t":595,"h":0.088,"l":0.08},{"k":25.5,"t":600,"h":0.083,"l":0.076},{"k":25.5,"t":605,"h":0.063,"l":0.057},{"k":25.5,"t":610,"h":0.063,"l":0.057},{"k":25.5,"t":615,"h":0.065,"l":0.059},{"k":25.5,"t":620,"h":0.065,"l":0.059},{"k":25.5,"t":625,"h":0.073,"l":0.066},{"k":25.5,"t":630,"h":0.079,"l":0.072},{"k":25.5,"t":635,"h":0.078,"l":0.071},{"k":25.5,"t":640,"h":0.067,"l":0.061},{"k":25.5,"t":645,"h":0.081,"l":0.074},{"k":25.5,"t":650,"h":0.083,"l":0.076},{"k":25.5,"t":655,"h":0.079,"l":0.072},{"k":25.5,"t":660,"h":0.079,"l":0.072},{"k":25.5,"t":665,"h":0.106,"l":0.096},{"k":25.5,"t":670,"h":0.085,"l":0.077},{"k":25.5,"t":675,"h":0.098,"l":0.089},{"k":25.5,"t":680,"h":0.079,"l":0.072},{"k":25.5,"t":685,"h":0.094,"l":0.086},{"k":25.5,"t":690,"h":0.083,"l":0.076},{"k":25.5,"t":695,"h":0.083,"l":0.076},{"k":25.5,"t":700,"h":0.061,"l":0.056},{"k":25.5,"t":705,"h":0.079,"l":0.072},{"k":25.5,"t":710,"h":0.075,"l":0.068},{"k":25.5,"t":715,"h":0.067,"l":0.061},{"k":25.5,"t":720,"h":0.07,"l":0.064},
{"k":25.5,"t":720,"h":0.044,"l":0.04},{"k":25.5,"t":725,"h":0.044,"l":0.04},{"k":25.5,"t":730,"h":0.048,"l":0.044},{"k":25.5,"t":735,"h":0.07,"l":0.064},{"k":25.5,"t":740,"h":0.071,"l":0.065},{"k":25.5,"t":745,"h":0.079,"l":0.072},{"k":25.5,"t":750,"h":0.083,"l":0.076},{"k":25.5,"t":755,"h":0.092,"l":0.084},{"k":25.5,"t":760,"h":0.086,"l":0.078},{"k":25.5,"t":765,"h":0.114,"l":0.104},{"k":25.5,"t":770,"h":0.112,"l":0.102},{"k":25.5,"t":775,"h":0.112,"l":0.102},{"k":25.5,"t":780,"h":0.099,"l":0.09},{"k":25.5,"t":785,"h":0.108,"l":0.098},{"k":25.5,"t":790,"h":0.096,"l":0.087},{"k":25.5,"t":795,"h":0.093,"l":0.085},{"k":25.5,"t":800,"h":0.096,"l":0.087},{"k":25.5,"t":805,"h":0.085,"l":0.077},{"k":25.5,"t":810,"h":0.093,"l":0.085},{"k":25.5,"t":815,"h":0.092,"l":0.084},{"k":25.5,"t":820,"h":0.101,"l":0.092},{"k":25.5,"t":825,"h":0.101,"l":0.092},{"k":25.5,"t":830,"h":0.09,"l":0.082},{"k":25.5,"t":835,"h":0.108,"l":0.098},{"k":25.5,"t":840,"h":0.094,"l":0.086},{"k":25.5,"t":845,"h":0.082,"l":0.075},{"k":25.5,"t":850,"h":0.086,"l":0.078},{"k":25.5,"t":855,"h":0.096,"l":0.087},{"k":25.5,"t":860,"h":0.088,"l":0.08},{"k":25.5,"t":865,"h":0.074,"l":0.067},{"k":25.5,"t":870,"h":0.082,"l":0.075},{"k":25.5,"t":875,"h":0.061,"l":0.056},{"k":25.5,"t":880,"h":0.071,"l":0.065},{"k":25.5,"t":885,"h":0.078,"l":0.071},{"k":25.5,"t":890,"h":0.075,"l":0.068},{"k":25.5,"t":895,"h":0.071,"l":0.065},{"k":25.5,"t":900,"h":0.086,"l":0.078},
{"k":25.5,"t":900,"h":0.02,"l":0.018},{"k":25.5,"t":905,"h":0.02,"l":0.018},{"k":25.5,"t":910,"h":0.014,"l":0.013},{"k":25.5,"t":930,"h":0.012,"l":0.011},{"k":25.5,"t":960,"h":0.008,"l":0.007},{"k":25.5,"t":990,"h":0.004,"l":0.004},{"k":25.5,"t":1000,"h":0,"l":0},{"k":25.5,"t":1080,"h":0,"l":0},
{"k":28.5,"t":540,"h":0.014,"l":0.013},{"k":28.5,"t":550,"h":0.014,"l":0.013},{"k":28.5,"t":555,"h":0.03,"l":0.027},{"k":28.5,"t":560,"h":0.022,"l":0.02},{"k":28.5,"t":565,"h":0.034,"l":0.031},{"k":28.5,"t":570,"h":0.02,"l":0.018},{"k":28.5,"t":575,"h":0.03,"l":0.027},{"k":28.5,"t":580,"h":0.038,"l":0.035},{"k":28.5,"t":585,"h":0.022,"l":0.02},{"k":28.5,"t":590,"h":0.041,"l":0.037},{"k":28.5,"t":600,"h":0.032,"l":0.029},{"k":28.5,"t":610,"h":0.03,"l":0.027},{"k":28.5,"t":620,"h":0.022,"l":0.02},{"k":28.5,"t":625,"h":0.018,"l":0.016},{"k":28.5,"t":630,"h":0.032,"l":0.029},{"k":28.5,"t":640,"h":0.026,"l":0.024},{"k":28.5,"t":650,"h":0.03,"l":0.027},{"k":28.5,"t":660,"h":0.034,"l":0.031},{"k":28.5,"t":670,"h":0.044,"l":0.04},{"k":28.5,"t":680,"h":0.038,"l":0.035},{"k":28.5,"t":690,"h":0.037,"l":0.034},{"k":28.5,"t":700,"h":0.028,"l":0.025},{"k":28.5,"t":710,"h":0.044,"l":0.04},{"k":28.5,"t":715,"h":0.034,"l":0.031},{"k":28.5,"t":720,"h":0.04,"l":0.036},
{"k":28.5,"t":720,"h":0.02,"l":0.018},{"k":28.5,"t":730,"h":0.016,"l":0.015},{"k":28.5,"t":740,"h":0.02,"l":0.018},{"k":28.5,"t":750,"h":0.03,"l":0.027},{"k":28.5,"t":755,"h":0.038,"l":0.035},{"k":28.5,"t":765,"h":0.034,"l":0.031},{"k":28.5,"t":770,"h":0.051,"l":0.046},{"k":28.5,"t":775,"h":0.038,"l":0.035},{"k":28.5,"t":780,"h":0.053,"l":0.048},{"k":28.5,"t":785,"h":0.04,"l":0.036},{"k":28.5,"t":790,"h":0.047,"l":0.043},{"k":28.5,"t":800,"h":0.034,"l":0.031},{"k":28.5,"t":810,"h":0.038,"l":0.035},{"k":28.5,"t":820,"h":0.04,"l":0.036},{"k":28.5,"t":825,"h":0.03,"l":0.027},{"k":28.5,"t":835,"h":0.044,"l":0.04},{"k":28.5,"t":840,"h":0.032,"l":0.029},{"k":28.5,"t":850,"h":0.036,"l":0.033},{"k":28.5,"t":855,"h":0.043,"l":0.039},{"k":28.5,"t":860,"h":0.028,"l":0.025},{"k":28.5,"t":870,"h":0.026,"l":0.024},{"k":28.5,"t":880,"h":0.029,"l":0.026},{"k":28.5,"t":890,"h":0.026,"l":0.024},{"k":28.5,"t":900,"h":0.036,"l":0.033},
{"k":28.5,"t":900,"h":0.006,"l":0.005},{"k":28.5,"t":920,"h":0.003,"l":0.003},{"k":28.5,"t":940,"h":0,"l":0},{"k":28.5,"t":1080,"h":0,"l":0}
],
"walsh": [
{"k":4.5,"t":540,"h":1,"l":0.939},{"k":4.5,"t":545,"h":1,"l":0.939},{"k":4.5,"t":550,"h":1,"l":0.95},{"k":4.5,"t":555,"h":1,"l":0.964},{"k":4.5,"t":560,"h":1,"l":0.968},{"k":4.5,"t":565,"h":1,"l":0.95},{"k":4.5,"t":570,"h":1,"l":0.972},{"k":4.5,"t":580,"h":1,"l":0.972},{"k":4.5,"t":585,"h":1,"l":0.96},{"k":4.5,"t":590,"h":1,"l":0.97},{"k":4.5,"t":595,"h":1,"l":0.976},{"k":4.5,"t":600,"h":1,"l":0.961},{"k":4.5,"t":610,"h":1,"l":0.968},{"k":4.5,"t":615,"h":1,"l":0.95},{"k":4.5,"t":620,"h":1,"l":0.95},{"k":4.5,"t":625,"h":1,"l":0.97},{"k":4.5,"t":630,"h":1,"l":0.956},{"k":4.5,"t":640,"h":1,"l":0.954},{"k":4.5,"t":645,"h":1,"l":0.962},{"k":4.5,"t":650,"h":1,"l":0.952},{"k":4.5,"t":655,"h":1,"l":0.956},{"k":4.5,"t":660,"h":1,"l":0.949},{"k":4.5,"t":665,"h":1,"l":0.96},{"k":4.5,"t":675,"h":1,"l":0.958},{"k":4.5,"t":680,"h":1,"l":0.964},{"k":4.5,"t":685,"h":1,"l":0.954},{"k":4.5,"t":690,"h":1,"l":0.954},{"k":4.5,"t":700,"h":1,"l":0.961},{"k":4.5,"t":710,"h":1,"l":0.95},{"k":4.5,"t":715,"h":1,"l":0.96},{"k":4.5,"t":720,"h":1,"l":0.943},
{"k":4.5,"t":720,"h":1,"l":0.97},{"k":4.5,"t":730,"h":1,"l":0.97},{"k":4.5,"t":735,"h":1,"l":0.976},{"k":4.5,"t":740,"h":1,"l":0.97},{"k":4.5,"t":745,"h":1,"l":0.972},{"k":4.5,"t":750,"h":1,"l":0.935},{"k":4.5,"t":755,"h":1,"l":0.952},{"k":4.5,"t":760,"h":1,"l":0.957},{"k":4.5,"t":765,"h":1,"l":0.947},{"k":4.5,"t":770,"h":1,"l":0.956},{"k":4.5,"t":775,"h":1,"l":0.942},{"k":4.5,"t":780,"h":1,"l":0.953},{"k":4.5,"t":785,"h":1,"l":0.945},{"k":4.5,"t":790,"h":1,"l":0.954},{"k":4.5,"t":795,"h":1,"l":0.943},{"k":4.5,"t":800,"h":1,"l":0.945},{"k":4.5,"t":805,"h":1,"l":0.95},{"k":4.5,"t":810,"h":1,"l":0.933},{"k":4.5,"t":815,"h":1,"l":0.945},{"k":4.5,"t":820,"h":1,"l":0.937},{"k":4.5,"t":830,"h":1,"l":0.939},{"k":4.5,"t":840,"h":1,"l":0.929},{"k":4.5,"t":845,"h":1,"l":0.935},{"k":4.5,"t":855,"h":1,"l":0.92},{"k":4.5,"t":860,"h":1,"l":0.931},{"k":4.5,"t":870,"h":1,"l":0.929},{"k":4.5,"t":875,"h":1,"l":0.923},{"k":4.5,"t":880,"h":1,"l":0.919},{"k":4.5,"t":885,"h":1,"l":0.934},{"k":4.5,"t":890,"h":1,"l":0.912},{"k":4.5,"t":900,"h":1,"l":0.916},
{"k":4.5,"t":900,"h":1,"l":0.941},{"k":4.5,"t":905,"h":1,"l":0.941},{"k":4.5,"t":910,"h":1,"l":0.934},{"k":4.5,"t":915,"h":1,"l":0.92},{"k":4.5,"t":920,"h":1,"l":0.915},{"k":4.5,"t":925,"h":0.979,"l":0.89},{"k":4.5,"t":930,"h":1,"l":0.911},{"k":4.5,"t":935,"h":0.984,"l":0.896},{"k":4.5,"t":940,"h":0.972,"l":0.884},{"k":4.5,"t":945,"h":0.957,"l":0.871},{"k":4.5,"t":950,"h":0.972,"l":0.884},{"k":4.5,"t":955,"h":0.928,"l":0.845},{"k":4.5,"t":960,"h":1,"l":0.946},{"k":4.5,"t":965,"h":1,"l":0.912},{"k":4.5,"t":970,"h":1,"l":0.966},{"k":4.5,"t":975,"h":1,"l":0.938},{"k":4.5,"t":980,"h":1,"l":0.938},{"k":4.5,"t":985,"h":1,"l":0.909},{"k":4.5,"t":990,"h":1,"l":0.979,"d":2},{"k":4.5,"t":995,"h":1,"l":0.961,"d":1},{"k":4.5,"t":1000,"h":1,"l":0.95,"d":1},{"k":4.5,"t":1005,"h":1,"l":0.938,"d":1},{"k":4.5,"t":1010,"h":1,"l":0.917,"d":1},{"k":4.5,"t":1015,"h":0.994,"l":0.904,"d":1},{"k":4.5,"t":1020,"h":1,"l":0.968,"d":1},{"k":4.5,"t":1025,"h":1,"l":0.961,"d":1},{"k":4.5,"t":1030,"h":1,"l":0.958,"d":1},{"k":4.5,"t":1035,"h":1,"l":0.929,"d":1},{"k":4.5,"t":1040,"h":1,"l":0.927,"d":1},{"k":4.5,"t":1045,"h":0.96,"l":0.876,"d":1},{"k":4.5,"t":1050,"h":0.953,"l":0.868,"d":1},{"k":4.5,"t":1055,"h":0.863,"l":0.788,"d":1},{"k":4.5,"t":1060,"h":1,"l":1,"d":1},{"k":4.5,"t":1080,"h":1,"l":1,"d":1},
{"k":7.5,"t":540,"h":0.857,"l":0.779},{"k":7.5,"t":545,"h":0.857,"l":0.779},{"k":7.5,"t":550,"h":0.847,"l":0.771},{"k":7.5,"t":555,"h":0.865,"l":0.788},{"k":7.5,"t":560,"h":0.867,"l":0.789},{"k":7.5,"t":565,"h":0.876,"l":0.796},{"k":7.5,"t":570,"h":0.886,"l":0.806},{"k":7.5,"t":575,"h":0.894,"l":0.814},{"k":7.5,"t":580,"h":0.888,"l":0.806},{"k":7.5,"t":585,"h":0.878,"l":0.798},{"k":7.5,"t":590,"h":0.871,"l":0.793},{"k":7.5,"t":595,"h":0.872,"l":0.793},{"k":7.5,"t":600,"h":0.86,"l":0.782},{"k":7.5,"t":605,"h":0.883,"l":0.801},{"k":7.5,"t":610,"h":0.853,"l":0.777},{"k":7.5,"t":615,"h":0.888,"l":0.806},{"k":7.5,"t":620,"h":0.838,"l":0.765},{"k":7.5,"t":625,"h":0.894,"l":0.812},{"k":7.5,"t":630,"h":0.832,"l":0.757},{"k":7.5,"t":635,"h":0.865,"l":0.788},{"k":7.5,"t":640,"h":0.86,"l":0.783},{"k":7.5,"t":645,"h":0.863,"l":0.785},{"k":7.5,"t":650,"h":0.882,"l":0.8},{"k":7.5,"t":655,"h":0.867,"l":0.788},{"k":7.5,"t":660,"h":0.847,"l":0.773},{"k":7.5,"t":665,"h":0.867,"l":0.788},{"k":7.5,"t":670,"h":0.837,"l":0.76},{"k":7.5,"t":675,"h":0.868,"l":0.792},{"k":7.5,"t":680,"h":0.871,"l":0.793},{"k":7.5,"t":685,"h":0.847,"l":0.771},{"k":7.5,"t":690,"h":0.872,"l":0.793},{"k":7.5,"t":695,"h":0.855,"l":0.777},{"k":7.5,"t":700,"h":0.88,"l":0.798},{"k":7.5,"t":705,"h":0.855,"l":0.778},{"k":7.5,"t":710,"h":0.882,"l":0.8},{"k":7.5,"t":715,"h":0.853,"l":0.775},{"k":7.5,"t":720,"h":0.888,"l":0.804},
{"k":7.5,"t":720,"h":0.927,"l":0.842},{"k":7.5,"t":725,"h":0.927,"l":0.842},{"k":7.5,"t":730,"h":0.917,"l":0.834},{"k":7.5,"t":735,"h":0.952,"l":0.866},{"k":7.5,"t":740,"h":0.927,"l":0.842},{"k":7.5,"t":745,"h":0.937,"l":0.852},{"k":7.5,"t":750,"h":0.824,"l":0.749},{"k":7.5,"t":755,"h":0.861,"l":0.783},{"k":7.5,"t":760,"h":0.845,"l":0.768},{"k":7.5,"t":765,"h":0.816,"l":0.742},{"k":7.5,"t":770,"h":0.845,"l":0.768},{"k":7.5,"t":775,"h":0.815,"l":0.741},{"k":7.5,"t":780,"h":0.833,"l":0.757},{"k":7.5,"t":785,"h":0.827,"l":0.752},{"k":7.5,"t":790,"h":0.808,"l":0.735},{"k":7.5,"t":795,"h":0.831,"l":0.755},{"k":7.5,"t":800,"h":0.824,"l":0.749},{"k":7.5,"t":805,"h":0.804,"l":0.731},{"k":7.5,"t":810,"h":0.783,"l":0.712},{"k":7.5,"t":815,"h":0.783,"l":0.712},{"k":7.5,"t":820,"h":0.767,"l":0.697},{"k":7.5,"t":825,"h":0.747,"l":0.679},{"k":7.5,"t":830,"h":0.804,"l":0.731},{"k":7.5,"t":835,"h":0.769,"l":0.699},{"k":7.5,"t":840,"h":0.779,"l":0.708},{"k":7.5,"t":845,"h":0.779,"l":0.708},{"k":7.5,"t":850,"h":0.774,"l":0.704},{"k":7.5,"t":855,"h":0.759,"l":0.69},{"k":7.5,"t":860,"h":0.759,"l":0.69},{"k":7.5,"t":865,"h":0.763,"l":0.694},{"k":7.5,"t":870,"h":0.736,"l":0.669},{"k":7.5,"t":875,"h":0.74,"l":0.673},{"k":7.5,"t":880,"h":0.716,"l":0.651},{"k":7.5,"t":885,"h":0.722,"l":0.656},{"k":7.5,"t":890,"h":0.7,"l":0.636},{"k":7.5,"t":895,"h":0.7,"l":0.636},{"k":7.5,"t":900,"h":0.679,"l":0.617},
{"k":7.5,"t":900,"h":0.782,"l":0.712},{"k":7.5,"t":905,"h":0.782,"l":0.712},{"k":7.5,"t":910,"h":0.736,"l":0.67},{"k":7.5,"t":915,"h":0.683,"l":0.621},{"k":7.5,"t":920,"h":0.675,"l":0.614},{"k":7.5,"t":925,"h":0.638,"l":0.58},{"k":7.5,"t":930,"h":0.626,"l":0.569},{"k":7.5,"t":935,"h":0.636,"l":0.578},{"k":7.5,"t":940,"h":0.61,"l":0.555},{"k":7.5,"t":945,"h":0.562,"l":0.511},{"k":7.5,"t":950,"h":0.596,"l":0.542},{"k":7.5,"t":955,"h":0.514,"l":0.467},{"k":7.5,"t":960,"h":0.771,"l":0.7},{"k":7.5,"t":965,"h":0.64,"l":0.582},{"k":7.5,"t":970,"h":0.7,"l":0.637},{"k":7.5,"t":975,"h":0.628,"l":0.571},{"k":7.5,"t":980,"h":0.562,"l":0.511},{"k":7.5,"t":985,"h":0.519,"l":0.472},{"k":7.5,"t":990,"h":0.683,"l":0.621},{"k":7.5,"t":995,"h":0.601,"l":0.547},{"k":7.5,"t":1000,"h":0.558,"l":0.508},{"k":7.5,"t":1005,"h":0.505,"l":0.459},{"k":7.5,"t":1010,"h":0.454,"l":0.413},{"k":7.5,"t":1015,"h":0.363,"l":0.33},{"k":7.5,"t":1020,"h":0.533,"l":0.485},{"k":7.5,"t":1025,"h":0.468,"l":0.426},{"k":7.5,"t":1030,"h":0.445,"l":0.405},{"k":7.5,"t":1035,"h":0.343,"l":0.312},{"k":7.5,"t":1040,"h":0.32,"l":0.291},{"k":7.5,"t":1045,"h":0.213,"l":0.194},{"k":7.5,"t":1050,"h":0.189,"l":0.172},{"k":7.5,"t":1055,"h":0.123,"l":0.112},{"k":7.5,"t":1060,"h":0.246,"l":0.224,"d":2},{"k":7.5,"t":1065,"h":0.34,"l":0.309,"d":1},{"k":7.5,"t":1070,"h":0.299,"l":0.272,"d":1},{"k":7.5,"t":1075,"h":0.449,"l":0.409,"d":1},{"k":7.5,"t":1080,"h":0.398,"l":0.362,"d":1},
{"k":10.5,"t":540,"h":0.533,"l":0.486},{"k":10.5,"t":545,"h":0.533,"l":0.486},{"k":10.5,"t":550,"h":0.54,"l":0.492},{"k":10.5,"t":555,"h":0.551,"l":0.502},{"k":10.5,"t":560,"h":0.555,"l":0.506},{"k":10.5,"t":565,"h":0.573,"l":0.522},{"k":10.5,"t":570,"h":0.591,"l":0.538},{"k":10.5,"t":575,"h":0.596,"l":0.543},{"k":10.5,"t":580,"h":0.581,"l":0.529},{"k":10.5,"t":585,"h":0.579,"l":0.527},{"k":10.5,"t":590,"h":0.579,"l":0.527},{"k":10.5,"t":595,"h":0.579,"l":0.527},{"k":10.5,"t":600,"h":0.554,"l":0.505},{"k":10.5,"t":605,"h":0.587,"l":0.535},{"k":10.5,"t":610,"h":0.537,"l":0.489},{"k":10.5,"t":615,"h":0.548,"l":0.499},{"k":10.5,"t":620,"h":0.54,"l":0.492},{"k":10.5,"t":625,"h":0.576,"l":0.525},{"k":10.5,"t":630,"h":0.561,"l":0.511},{"k":10.5,"t":635,"h":0.582,"l":0.53},{"k":10.5,"t":640,"h":0.564,"l":0.514},{"k":10.5,"t":645,"h":0.573,"l":0.522},{"k":10.5,"t":650,"h":0.568,"l":0.517},{"k":10.5,"t":655,"h":0.544,"l":0.496},{"k":10.5,"t":660,"h":0.543,"l":0.495},{"k":10.5,"t":665,"h":0.547,"l":0.498},{"k":10.5,"t":670,"h":0.529,"l":0.482},{"k":10.5,"t":675,"h":0.554,"l":0.505},{"k":10.5,"t":680,"h":0.55,"l":0.501},{"k":10.5,"t":685,"h":0.543,"l":0.495},{"k":10.5,"t":690,"h":0.572,"l":0.521},{"k":10.5,"t":695,"h":0.519,"l":0.473},{"k":10.5,"t":700,"h":0.546,"l":0.497},{"k":10.5,"t":705,"h":0.55,"l":0.501},{"k":10.5,"t":710,"h":0.541,"l":0.493},{"k":10.5,"t":715,"h":0.537,"l":0.489},{"k":10.5,"t":720,"h":0.574,"l":0.523},
{"k":10.5,"t":720,"h":0.637,"l":0.58},{"k":10.5,"t":725,"h":0.637,"l":0.58},{"k":10.5,"t":730,"h":0.625,"l":0.569},{"k":10.5,"t":735,"h":0.669,"l":0.609},{"k":10.5,"t":740,"h":0.666,"l":0.607},{"k":10.5,"t":745,"h":0.658,"l":0.599},{"k":10.5,"t":750,"h":0.513,"l":0.467},{"k":10.5,"t":755,"h":0.539,"l":0.491},{"k":10.5,"t":760,"h":0.523,"l":0.476},{"k":10.5,"t":765,"h":0.523,"l":0.476},{"k":10.5,"t":770,"h":0.51,"l":0.464},{"k":10.5,"t":775,"h":0.499,"l":0.454},{"k":10.5,"t":780,"h":0.482,"l":0.439},{"k":10.5,"t":785,"h":0.461,"l":0.42},{"k":10.5,"t":790,"h":0.482,"l":0.439},{"k":10.5,"t":795,"h":0.465,"l":0.423},{"k":10.5,"t":800,"h":0.506,"l":0.461},{"k":10.5,"t":805,"h":0.455,"l":0.414},{"k":10.5,"t":810,"h":0.455,"l":0.414},{"k":10.5,"t":815,"h":0.437,"l":0.398},{"k":10.5,"t":820,"h":0.449,"l":0.409},{"k":10.5,"t":825,"h":0.41,"l":0.373},{"k":10.5,"t":830,"h":0.472,"l":0.43},{"k":10.5,"t":835,"h":0.398,"l":0.362},{"k":10.5,"t":840,"h":0.422,"l":0.384},{"k":10.5,"t":845,"h":0.371,"l":0.338},{"k":10.5,"t":850,"h":0.417,"l":0.38},{"k":10.5,"t":855,"h":0.368,"l":0.335},{"k":10.5,"t":860,"h":0.409,"l":0.372},{"k":10.5,"t":865,"h":0.35,"l":0.319},{"k":10.5,"t":870,"h":0.372,"l":0.339},{"k":10.5,"t":875,"h":0.354,"l":0.322},{"k":10.5,"t":880,"h":0.373,"l":0.34},{"k":10.5,"t":885,"h":0.332,"l":0.302},{"k":10.5,"t":890,"h":0.365,"l":0.332},{"k":10.5,"t":895,"h":0.326,"l":0.297},{"k":10.5,"t":900,"h":0.316,"l":0.288},
{"k":10.5,"t":900,"h":0.371,"l":0.338},{"k":10.5,"t":905,"h":0.371,"l":0.338},{"k":10.5,"t":910,"h":0.318,"l":0.29},{"k":10.5,"t":915,"h":0.287,"l":0.261},{"k":10.5,"t":920,"h":0.297,"l":0.27},{"k":10.5,"t":925,"h":0.238,"l":0.217},{"k":10.5,"t":930,"h":0.283,"l":0.258},{"k":10.5,"t":935,"h":0.246,"l":0.224},{"k":10.5,"t":940,"h":0.234,"l":0.213},{"k":10.5,"t":945,"h":0.189,"l":0.172},{"k":10.5,"t":950,"h":0.217,"l":0.198},{"k":10.5,"t":955,"h":0.174,"l":0.158},{"k":10.5,"t":960,"h":0.376,"l":0.342},{"k":10.5,"t":965,"h":0.249,"l":0.227},{"k":10.5,"t":970,"h":0.31,"l":0.282},{"k":10.5,"t":975,"h":0.25,"l":0.228},{"k":10.5,"t":980,"h":0.203,"l":0.185},{"k":10.5,"t":985,"h":0.174,"l":0.158},{"k":10.5,"t":990,"h":0.219,"l":0.199},{"k":10.5,"t":995,"h":0.174,"l":0.158},{"k":10.5,"t":1000,"h":0.144,"l":0.131},{"k":10.5,"t":1005,"h":0.1,"l":0.091},{"k":10.5,"t":1010,"h":0.096,"l":0.087},{"k":10.5,"t":1015,"h":0.056,"l":0.051},{"k":10.5,"t":1020,"h":0.103,"l":0.094},{"k":10.5,"t":1025,"h":0.071,"l":0.065},{"k":10.5,"t":1030,"h":0.039,"l":0.035},{"k":10.5,"t":1035,"h":0.03,"l":0.027},{"k":10.5,"t":1040,"h":0.025,"l":0.023},{"k":10.5,"t":1045,"h":0.016,"l":0.015},{"k":10.5,"t":1050,"h":0.016,"l":0.015},{"k":10.5,"t":1055,"h":0.011,"l":0.01},{"k":10.5,"t":1065,"h":0.011,"l":0.01},{"k":10.5,"t":1070,"h":0.015,"l":0.014},{"k":10.5,"t":1075,"h":0.011,"l":0.01},{"k":10.5,"t":1080,"h":0.002,"l":0.002},
{"k":13.5,"t":540,"h":0.265,"l":0.242},{"k":13.5,"t":545,"h":0.265,"l":0.242},{"k":13.5,"t":550,"h":0.257,"l":0.235},{"k":13.5,"t":555,"h":0.281,"l":0.257},{"k":13.5,"t":560,"h":0.269,"l":0.246},{"k":13.5,"t":565,"h":0.279,"l":0.255},{"k":13.5,"t":570,"h":0.299,"l":0.273},{"k":13.5,"t":575,"h":0.285,"l":0.26},{"k":13.5,"t":580,"h":0.308,"l":0.281},{"k":13.5,"t":585,"h":0.299,"l":0.273},{"k":13.5,"t":590,"h":0.294,"l":0.268},{"k":13.5,"t":595,"h":0.309,"l":0.282},{"k":13.5,"t":600,"h":0.299,"l":0.273},{"k":13.5,"t":605,"h":0.306,"l":0.279},{"k":13.5,"t":610,"h":0.29,"l":0.265},{"k":13.5,"t":615,"h":0.285,"l":0.26},{"k":13.5,"t":620,"h":0.279,"l":0.255},{"k":13.5,"t":625,"h":0.298,"l":0.272},{"k":13.5,"t":630,"h":0.279,"l":0.255},{"k":13.5,"t":635,"h":0.291,"l":0.266},{"k":13.5,"t":640,"h":0.284,"l":0.259},{"k":13.5,"t":645,"h":0.294,"l":0.268},{"k":13.5,"t":650,"h":0.302,"l":0.276},{"k":13.5,"t":655,"h":0.285,"l":0.26},{"k":13.5,"t":660,"h":0.271,"l":0.247},{"k":13.5,"t":665,"h":0.249,"l":0.227},{"k":13.5,"t":670,"h":0.223,"l":0.204},{"k":13.5,"t":675,"h":0.277,"l":0.253},{"k":13.5,"t":680,"h":0.257,"l":0.235},{"k":13.5,"t":685,"h":0.249,"l":0.227},{"k":13.5,"t":690,"h":0.281,"l":0.257},{"k":13.5,"t":695,"h":0.257,"l":0.235},{"k":13.5,"t":700,"h":0.283,"l":0.258},{"k":13.5,"t":705,"h":0.271,"l":0.247},{"k":13.5,"t":710,"h":0.265,"l":0.242},{"k":13.5,"t":715,"h":0.249,"l":0.227},{"k":13.5,"t":720,"h":0.26,"l":0.237},
{"k":13.5,"t":720,"h":0.355,"l":0.324},{"k":13.5,"t":725,"h":0.355,"l":0.324},{"k":13.5,"t":730,"h":0.361,"l":0.33},{"k":13.5,"t":735,"h":0.365,"l":0.333},{"k":13.5,"t":740,"h":0.388,"l":0.354},{"k":13.5,"t":745,"h":0.35,"l":0.32},{"k":13.5,"t":750,"h":0.244,"l":0.223},{"k":13.5,"t":755,"h":0.246,"l":0.225},{"k":13.5,"t":760,"h":0.23,"l":0.21},{"k":13.5,"t":765,"h":0.25,"l":0.228},{"k":13.5,"t":770,"h":0.228,"l":0.208},{"k":13.5,"t":775,"h":0.223,"l":0.204},{"k":13.5,"t":780,"h":0.26,"l":0.237},{"k":13.5,"t":785,"h":0.205,"l":0.187},{"k":13.5,"t":790,"h":0.208,"l":0.19},{"k":13.5,"t":795,"h":0.23,"l":0.21},{"k":13.5,"t":800,"h":0.215,"l":0.196},{"k":13.5,"t":805,"h":0.18,"l":0.164},{"k":13.5,"t":810,"h":0.201,"l":0.184},{"k":13.5,"t":815,"h":0.164,"l":0.15},{"k":13.5,"t":820,"h":0.186,"l":0.17},{"k":13.5,"t":825,"h":0.145,"l":0.132},{"k":13.5,"t":830,"h":0.199,"l":0.182},{"k":13.5,"t":835,"h":0.141,"l":0.129},{"k":13.5,"t":840,"h":0.178,"l":0.163},{"k":13.5,"t":845,"h":0.135,"l":0.123},{"k":13.5,"t":850,"h":0.182,"l":0.166},{"k":13.5,"t":855,"h":0.126,"l":0.115},{"k":13.5,"t":860,"h":0.179,"l":0.163},{"k":13.5,"t":865,"h":0.104,"l":0.095},{"k":13.5,"t":870,"h":0.152,"l":0.139},{"k":13.5,"t":875,"h":0.111,"l":0.101},{"k":13.5,"t":880,"h":0.145,"l":0.132},{"k":13.5,"t":885,"h":0.112,"l":0.102},{"k":13.5,"t":890,"h":0.127,"l":0.116},{"k":13.5,"t":895,"h":0.104,"l":0.095},{"k":13.5,"t":900,"h":0.117,"l":0.107},
{"k":13.5,"t":900,"h":0.105,"l":0.096},{"k":13.5,"t":905,"h":0.105,"l":0.096},{"k":13.5,"t":910,"h":0.094,"l":0.086},{"k":13.5,"t":915,"h":0.08,"l":0.073},{"k":13.5,"t":920,"h":0.067,"l":0.061},{"k":13.5,"t":925,"h":0.06,"l":0.055},{"k":13.5,"t":930,"h":0.06,"l":0.055},{"k":13.5,"t":935,"h":0.071,"l":0.065},{"k":13.5,"t":940,"h":0.06,"l":0.055},{"k":13.5,"t":945,"h":0.047,"l":0.043},{"k":13.5,"t":950,"h":0.064,"l":0.058},{"k":13.5,"t":955,"h":0.043,"l":0.039},{"k":13.5,"t":960,"h":0.101,"l":0.092},{"k":13.5,"t":965,"h":0.047,"l":0.043},{"k":13.5,"t":970,"h":0.06,"l":0.055},{"k":13.5,"t":975,"h":0.033,"l":0.03},{"k":13.5,"t":980,"h":0.018,"l":0.016},{"k":13.5,"t":985,"h":0.018,"l":0.016},{"k":13.5,"t":990,"h":0.029,"l":0.026},{"k":13.5,"t":995,"h":0.015,"l":0.014},{"k":13.5,"t":1000,"h":0.014,"l":0.013},{"k":13.5,"t":1005,"h":0.012,"l":0.011},{"k":13.5,"t":1020,"h":0.011,"l":0.01},{"k":13.5,"t":1025,"h":0.004,"l":0.004},{"k":13.5,"t":1030,"h":0.011,"l":0.01},{"k":13.5,"t":1035,"h":0.004,"l":0.004},{"k":13.5,"t":1040,"h":0,"l":0},{"k":13.5,"t":1080,"h":0,"l":0},
{"k":16.5,"t":540,"h":0.112,"l":0.104},{"k":16.5,"t":545,"h":0.112,"l":0.104},{"k":16.5,"t":550,"h":0.109,"l":0.101},{"k":16.5,"t":555,"h":0.109,"l":0.101},{"k":16.5,"t":560,"h":0.119,"l":0.11},{"k":16.5,"t":565,"h":0.107,"l":0.099},{"k":16.5,"t":570,"h":0.142,"l":0.132},{"k":16.5,"t":575,"h":0.139,"l":0.129},{"k":16.5,"t":580,"h":0.121,"l":0.112},{"k":16.5,"t":585,"h":0.121,"l":0.112},{"k":16.5,"t":590,"h":0.115,"l":0.107},{"k":16.5,"t":595,"h":0.115,"l":0.107},{"k":16.5,"t":600,"h":0.131,"l":0.122},{"k":16.5,"t":605,"h":0.135,"l":0.125},{"k":16.5,"t":610,"h":0.126,"l":0.117},{"k":16.5,"t":615,"h":0.105,"l":0.098},{"k":16.5,"t":620,"h":0.125,"l":0.116},{"k":16.5,"t":625,"h":0.108,"l":0.1},{"k":16.5,"t":630,"h":0.13,"l":0.121},{"k":16.5,"t":635,"h":0.137,"l":0.127},{"k":16.5,"t":640,"h":0.117,"l":0.109},{"k":16.5,"t":645,"h":0.107,"l":0.099},{"k":16.5,"t":650,"h":0.111,"l":0.103},{"k":16.5,"t":655,"h":0.1,"l":0.093},{"k":16.5,"t":660,"h":0.104,"l":0.097},{"k":16.5,"t":665,"h":0.092,"l":0.086},{"k":16.5,"t":670,"h":0.101,"l":0.094},{"k":16.5,"t":675,"h":0.109,"l":0.101},{"k":16.5,"t":680,"h":0.098,"l":0.091},{"k":16.5,"t":685,"h":0.08,"l":0.074},{"k":16.5,"t":690,"h":0.109,"l":0.101},{"k":16.5,"t":695,"h":0.084,"l":0.078},{"k":16.5,"t":700,"h":0.108,"l":0.1},{"k":16.5,"t":705,"h":0.116,"l":0.108},{"k":16.5,"t":710,"h":0.094,"l":0.087},{"k":16.5,"t":715,"h":0.103,"l":0.096},{"k":16.5,"t":720,"h":0.094,"l":0.087},
{"k":16.5,"t":720,"h":0.154,"l":0.143},{"k":16.5,"t":725,"h":0.154,"l":0.143},{"k":16.5,"t":730,"h":0.146,"l":0.136},{"k":16.5,"t":735,"h":0.172,"l":0.16},{"k":16.5,"t":740,"h":0.156,"l":0.145},{"k":16.5,"t":745,"h":0.152,"l":0.141},{"k":16.5,"t":750,"h":0.094,"l":0.087},{"k":16.5,"t":755,"h":0.107,"l":0.1},{"k":16.5,"t":760,"h":0.074,"l":0.069},{"k":16.5,"t":765,"h":0.093,"l":0.086},{"k":16.5,"t":770,"h":0.084,"l":0.078},{"k":16.5,"t":775,"h":0.089,"l":0.083},{"k":16.5,"t":780,"h":0.082,"l":0.076},{"k":16.5,"t":785,"h":0.078,"l":0.073},{"k":16.5,"t":790,"h":0.06,"l":0.056},{"k":16.5,"t":795,"h":0.063,"l":0.059},{"k":16.5,"t":800,"h":0.064,"l":0.06},{"k":16.5,"t":805,"h":0.066,"l":0.061},{"k":16.5,"t":810,"h":0.066,"l":0.061},{"k":16.5,"t":815,"h":0.06,"l":0.056},{"k":16.5,"t":820,"h":0.06,"l":0.056},{"k":16.5,"t":825,"h":0.056,"l":0.052},{"k":16.5,"t":830,"h":0.08,"l":0.074},{"k":16.5,"t":835,"h":0.055,"l":0.051},{"k":16.5,"t":840,"h":0.059,"l":0.055},{"k":16.5,"t":845,"h":0.049,"l":0.046},{"k":16.5,"t":850,"h":0.055,"l":0.051},{"k":16.5,"t":855,"h":0.026,"l":0.024},{"k":16.5,"t":860,"h":0.056,"l":0.052},{"k":16.5,"t":865,"h":0.03,"l":0.028},{"k":16.5,"t":870,"h":0.045,"l":0.042},{"k":16.5,"t":875,"h":0.027,"l":0.025},{"k":16.5,"t":880,"h":0.039,"l":0.036},{"k":16.5,"t":885,"h":0.033,"l":0.031},{"k":16.5,"t":890,"h":0.033,"l":0.031},{"k":16.5,"t":895,"h":0.029,"l":0.027},{"k":16.5,"t":900,"h":0.033,"l":0.031},
{"k":16.5,"t":900,"h":0.033,"l":0.031},{"k":16.5,"t":905,"h":0.031,"l":0.029},{"k":16.5,"t":910,"h":0.029,"l":0.027},{"k":16.5,"t":915,"h":0.023,"l":0.021},{"k":16.5,"t":920,"h":0.018,"l":0.017},{"k":16.5,"t":925,"h":0.014,"l":0.013},{"k":16.5,"t":930,"h":0.012,"l":0.011},{"k":16.5,"t":950,"h":0.014,"l":0.013},{"k":16.5,"t":960,"h":0.015,"l":0.014},{"k":16.5,"t":965,"h":0.012,"l":0.011},{"k":16.5,"t":975,"h":0.011,"l":0.01},{"k":16.5,"t":980,"h":0.004,"l":0.004},{"k":16.5,"t":990,"h":0.011,"l":0.01},{"k":16.5,"t":1000,"h":0.011,"l":0.01},{"k":16.5,"t":1005,"h":0.004,"l":0.004},{"k":16.5,"t":1010,"h":0,"l":0},{"k":16.5,"t":1080,"h":0,"l":0},
{"k":19.5,"t":540,"h":0.047,"l":0.044},{"k":19.5,"t":545,"h":0.047,"l":0.044},{"k":19.5,"t":550,"h":0.026,"l":0.024},{"k":19.5,"t":555,"h":0.034,"l":0.032},{"k":19.5,"t":560,"h":0.043,"l":0.04},{"k":19.5,"t":565,"h":0.045,"l":0.042},{"k":19.5,"t":570,"h":0.049,"l":0.046},{"k":19.5,"t":575,"h":0.053,"l":0.049},{"k":19.5,"t":580,"h":0.043,"l":0.04},{"k":19.5,"t":585,"h":0.048,"l":0.045},{"k":19.5,"t":590,"h":0.034,"l":0.032},{"k":19.5,"t":595,"h":0.049,"l":0.046},{"k":19.5,"t":600,"h":0.056,"l":0.052},{"k":19.5,"t":605,"h":0.043,"l":0.04},{"k":19.5,"t":610,"h":0.056,"l":0.052},{"k":19.5,"t":615,"h":0.045,"l":0.042},{"k":19.5,"t":620,"h":0.039,"l":0.036},{"k":19.5,"t":630,"h":0.039,"l":0.036},{"k":19.5,"t":635,"h":0.043,"l":0.04},{"k":19.5,"t":640,"h":0.034,"l":0.032},{"k":19.5,"t":645,"h":0.031,"l":0.029},{"k":19.5,"t":650,"h":0.03,"l":0.028},{"k":19.5,"t":660,"h":0.029,"l":0.027},{"k":19.5,"t":670,"h":0.034,"l":0.032},{"k":19.5,"t":675,"h":0.03,"l":0.028},{"k":19.5,"t":680,"h":0.039,"l":0.036},{"k":19.5,"t":685,"h":0.039,"l":0.036},{"k":19.5,"t":690,"h":0.037,"l":0.034},{"k":19.5,"t":695,"h":0.039,"l":0.036},{"k":19.5,"t":700,"h":0.037,"l":0.034},{"k":19.5,"t":705,"h":0.043,"l":0.04},{"k":19.5,"t":710,"h":0.035,"l":0.033},{"k":19.5,"t":715,"h":0.033,"l":0.031},{"k":19.5,"t":720,"h":0.035,"l":0.033},
{"k":19.5,"t":720,"h":0.062,"l":0.058},{"k":19.5,"t":725,"h":0.062,"l":0.058},{"k":19.5,"t":730,"h":0.052,"l":0.048},{"k":19.5,"t":735,"h":0.066,"l":0.061},{"k":19.5,"t":740,"h":0.062,"l":0.058},{"k":19.5,"t":745,"h":0.062,"l":0.058},{"k":19.5,"t":750,"h":0.033,"l":0.031},{"k":19.5,"t":755,"h":0.045,"l":0.042},{"k":19.5,"t":760,"h":0.021,"l":0.02},{"k":19.5,"t":765,"h":0.035,"l":0.033},{"k":19.5,"t":770,"h":0.025,"l":0.023},{"k":19.5,"t":775,"h":0.037,"l":0.034},{"k":19.5,"t":780,"h":0.018,"l":0.017},{"k":19.5,"t":785,"h":0.037,"l":0.034},{"k":19.5,"t":790,"h":0.025,"l":0.023},{"k":19.5,"t":795,"h":0.026,"l":0.024},{"k":19.5,"t":800,"h":0.023,"l":0.021},{"k":19.5,"t":805,"h":0.023,"l":0.021},{"k":19.5,"t":810,"h":0.018,"l":0.017},{"k":19.5,"t":815,"h":0.029,"l":0.027},{"k":19.5,"t":820,"h":0.018,"l":0.017},{"k":19.5,"t":825,"h":0.012,"l":0.011},{"k":19.5,"t":830,"h":0.018,"l":0.017},{"k":19.5,"t":835,"h":0.016,"l":0.015},{"k":19.5,"t":840,"h":0.016,"l":0.015},{"k":19.5,"t":845,"h":0.011,"l":0.01},{"k":19.5,"t":850,"h":0.018,"l":0.017},{"k":19.5,"t":855,"h":0.012,"l":0.011},{"k":19.5,"t":900,"h":0.012,"l":0.011},
{"k":19.5,"t":900,"h":0.012,"l":0.011},{"k":19.5,"t":955,"h":0.012,"l":0.011},{"k":19.5,"t":960,"h":0.015,"l":0.014},{"k":19.5,"t":965,"h":0.012,"l":0.011},{"k":19.5,"t":975,"h":0.012,"l":0.011},{"k":19.5,"t":980,"h":0,"l":0},{"k":19.5,"t":1080,"h":0,"l":0},
{"k":22.5,"t":540,"h":0.012,"l":0.011},{"k":22.5,"t":555,"h":0.012,"l":0.011},{"k":22.5,"t":560,"h":0.016,"l":0.015},{"k":22.5,"t":570,"h":0.018,"l":0.017},{"k":22.5,"t":580,"h":0.012,"l":0.011},{"k":22.5,"t":600,"h":0.012,"l":0.011},{"k":22.5,"t":605,"h":0.02,"l":0.018},{"k":22.5,"t":610,"h":0.012,"l":0.011},{"k":22.5,"t":630,"h":0.012,"l":0.011},{"k":22.5,"t":640,"h":0.015,"l":0.014},{"k":22.5,"t":660,"h":0.012,"l":0.011},{"k":22.5,"t":700,"h":0.014,"l":0.013},{"k":22.5,"t":720,"h":0.012,"l":0.011},
{"k":22.5,"t":720,"h":0.02,"l":0.018},{"k":22.5,"t":730,"h":0.018,"l":0.017},{"k":22.5,"t":735,"h":0.012,"l":0.011},{"k":22.5,"t":745,"h":0.015,"l":0.014},{"k":22.5,"t":755,"h":0.01,"l":0.009},{"k":22.5,"t":800,"h":0.008,"l":0.007},{"k":22.5,"t":850,"h":0.01,"l":0.009},{"k":22.5,"t":900,"h":0.008,"l":0.007},
{"k":22.5,"t":900,"h":0.012,"l":0.011},{"k":22.5,"t":930,"h":0.016,"l":0.015},{"k":22.5,"t":940,"h":0.008,"l":0.007},{"k":22.5,"t":970,"h":0,"l":0},{"k":22.5,"t":1080,"h":0,"l":0},
{"k":25.5,"t":540,"h":0.008,"l":0.007},{"k":25.5,"t":560,"h":0.01,"l":0.009},{"k":25.5,"t":600,"h":0.012,"l":0.011},{"k":25.5,"t":650,"h":0.01,"l":0.009},{"k":25.5,"t":700,"h":0.008,"l":0.007},{"k":25.5,"t":720,"h":0.01,"l":0.009},
{"k":25.5,"t":720,"h":0.012,"l":0.011},{"k":25.5,"t":800,"h":0.008,"l":0.007},{"k":25.5,"t":900,"h":0.005,"l":0.005},
{"k":25.5,"t":900,"h":0.004,"l":0.004},{"k":25.5,"t":940,"h":0,"l":0},{"k":25.5,"t":1080,"h":0,"l":0},
{"k":28.5,"t":540,"h":0.005,"l":0.005},{"k":28.5,"t":720,"h":0.006,"l":0.005},{"k":28.5,"t":720,"h":0.008,"l":0.007},{"k":28.5,"t":900,"h":0.004,"l":0.004},{"k":28.5,"t":900,"h":0.002,"l":0.002},{"k":28.5,"t":930,"h":0,"l":0},{"k":28.5,"t":1080,"h":0,"l":0}
]
},
"vconcat": [
{
  "width": 1984, "height": 467,
  "title": {"text": "MICHAEL CONLAN — Total Strikes Landed R6 Over Leadup (R4-R6) (Event 16214)"},
  "data": {"name": "conlan"},
  "encoding": {"x": {"field": "t", "type": "quantitative", "title": null, "scale": {"domain": [513, 1107], "nice": false, "zero": false}, "axis": {"values": [600, 700, 800, 900, 1000, 1100], "labels": false, "title": null}}},
  "layer": [
    {"encoding": {"y": {"field": "h", "type": "quantitative", "title": "Prob", "scale": {"domain": [0, 1.1502], "nice": false, "zero": false}, "axis": {"values": [0,0.05,0.1,0.15,0.2,0.25,0.3,0.35,0.4,0.45,0.5,0.55,0.6,0.65,0.7,0.75,0.8,0.85,0.9,0.95,1,1.05,1.1,1.15], "tickCount": 30, "format": ".2f", "titleFontSize": 12.5, "titlePadding": 10, "labelOverlap": false, "labelBound": false, "labelFlush": false}}},
     "layer": [
      {"mark": {"type": "area", "opacity": 0.1}, "encoding": {"y2": {"field": "l"}, "fill": {"field": "k", "type": "nominal", "scale": {"domain": [4.5,13.5,19.5,25.5,7.5,16.5,22.5,28.5,10.5], "range": ["#e6194b","#f58231","#42d4f4","#bfef45","#3cb44b","#911eb4","#f032e6","#fabed4","#4363d8"]}, "legend": {"values": [4.5,25.5,22.5,13.5,7.5,28.5,19.5,16.5,10.5], "orient": "top-right", "offset": 7, "title": null, "columns": 4, "symbolType": "M-1,0H4.4", "symbolStrokeWidth": 3, "symbolOpacity": 0.9, "labelFontSize": 12.6, "labelOffset": 26, "columnPadding": 13, "rowPadding": 5, "padding": 5, "fillColor": "rgba(255,255,255,0.8)", "strokeColor": "#cccccc", "cornerRadius": 3, "labelColor": "#000", "labelExpr": "'over ' + datum.label", "encode": {"symbols": {"update": {"strokeWidth": {"value": 3}, "strokeDash": {"value": []}, "fillOpacity": {"value": 0}}}}}}}},
      {"mark": {"type": "line", "strokeWidth": 1.3, "strokeDash": [1.5, 2.5], "opacity": 0.75}, "encoding": {"y": {"field": "l", "type": "quantitative", "title": "Prob"}, "stroke": {"field": "k", "type": "nominal", "scale": {"domain": [4.5,13.5,19.5,25.5,7.5,16.5,22.5,28.5,10.5], "range": ["#e6194b","#f58231","#42d4f4","#bfef45","#3cb44b","#911eb4","#f032e6","#fabed4","#4363d8"]}, "legend": {"values": [4.5,25.5,22.5,13.5,7.5,28.5,19.5,16.5,10.5], "orient": "top-right", "offset": 7, "title": null, "columns": 4, "symbolType": "M-1,0H4.4", "symbolStrokeWidth": 3, "symbolOpacity": 0.9, "labelFontSize": 12.6, "labelOffset": 26, "columnPadding": 13, "rowPadding": 5, "padding": 5, "fillColor": "rgba(255,255,255,0.8)", "strokeColor": "#cccccc", "cornerRadius": 3, "labelColor": "#000", "labelExpr": "'over ' + datum.label", "encode": {"symbols": {"update": {"strokeWidth": {"value": 3}, "strokeDash": {"value": []}, "fillOpacity": {"value": 0}}}}}}}},
      {"transform": [{"filter": "datum.d !== 1"}], "mark": {"type": "line", "strokeWidth": 2.2, "opacity": 0.85}, "encoding": {"stroke": {"field": "k", "type": "nominal", "scale": {"domain": [4.5,13.5,19.5,25.5,7.5,16.5,22.5,28.5,10.5], "range": ["#e6194b","#f58231","#42d4f4","#bfef45","#3cb44b","#911eb4","#f032e6","#fabed4","#4363d8"]}}}},
      {"transform": [{"filter": "datum.d > 0"}], "mark": {"type": "line", "strokeWidth": 2.2, "opacity": 0.85, "strokeDash": [7, 4]}, "encoding": {"stroke": {"field": "k", "type": "nominal", "scale": {"domain": [4.5,13.5,19.5,25.5,7.5,16.5,22.5,28.5,10.5], "range": ["#e6194b","#f58231","#42d4f4","#bfef45","#3cb44b","#911eb4","#f032e6","#fabed4","#4363d8"]}}}}
     ]},
    {"data": {"name": "rounds"}, "mark": {"type": "rule", "color": "#777777", "strokeWidth": 1, "strokeDash": [2, 3]}, "encoding": {}},
    {"data": {"name": "rounds"}, "mark": {"type": "text", "align": "left", "baseline": "top", "dx": 6, "fontSize": 17, "color": "#666666"}, "encoding": {"y": {"datum": 1.115, "type": "quantitative", "title": "Prob"}, "text": {"field": "r"}}}
  ]
},
{
  "width": 1984, "height": 468,
  "title": {"text": "KEVIN WALSH — Total Strikes Landed R6 Over Leadup (R4-R6) (Event 16214)"},
  "data": {"name": "walsh"},
  "encoding": {"x": {"field": "t", "type": "quantitative", "title": null, "scale": {"domain": [513, 1107], "nice": false, "zero": false}, "axis": {"values": [600, 700, 800, 900, 1000, 1100], "labels": false, "title": null}}},
  "layer": [
    {"encoding": {"y": {"field": "h", "type": "quantitative", "title": "Prob", "scale": {"domain": [0, 1.1502], "nice": false, "zero": false}, "axis": {"values": [0,0.05,0.1,0.15,0.2,0.25,0.3,0.35,0.4,0.45,0.5,0.55,0.6,0.65,0.7,0.75,0.8,0.85,0.9,0.95,1,1.05,1.1,1.15], "tickCount": 30, "format": ".2f", "titleFontSize": 12.5, "titlePadding": 10, "labelOverlap": false, "labelBound": false, "labelFlush": false}}},
     "layer": [
      {"mark": {"type": "area", "opacity": 0.1}, "encoding": {"y2": {"field": "l"}, "fill": {"field": "k", "type": "nominal", "scale": {"domain": [4.5,13.5,19.5,25.5,7.5,16.5,22.5,28.5,10.5], "range": ["#e6194b","#f58231","#42d4f4","#bfef45","#3cb44b","#911eb4","#f032e6","#fabed4","#4363d8"]}, "legend": {"values": [4.5,25.5,22.5,13.5,7.5,28.5,19.5,16.5,10.5], "orient": "top-right", "offset": 7, "title": null, "columns": 4, "symbolType": "M-1,0H4.4", "symbolStrokeWidth": 3, "symbolOpacity": 0.9, "labelFontSize": 12.6, "labelOffset": 26, "columnPadding": 13, "rowPadding": 5, "padding": 5, "fillColor": "rgba(255,255,255,0.8)", "strokeColor": "#cccccc", "cornerRadius": 3, "labelColor": "#000", "labelExpr": "'over ' + datum.label", "encode": {"symbols": {"update": {"strokeWidth": {"value": 3}, "strokeDash": {"value": []}, "fillOpacity": {"value": 0}}}}}}}},
      {"mark": {"type": "line", "strokeWidth": 1.3, "strokeDash": [1.5, 2.5], "opacity": 0.75}, "encoding": {"y": {"field": "l", "type": "quantitative", "title": "Prob"}, "stroke": {"field": "k", "type": "nominal", "scale": {"domain": [4.5,13.5,19.5,25.5,7.5,16.5,22.5,28.5,10.5], "range": ["#e6194b","#f58231","#42d4f4","#bfef45","#3cb44b","#911eb4","#f032e6","#fabed4","#4363d8"]}, "legend": {"values": [4.5,25.5,22.5,13.5,7.5,28.5,19.5,16.5,10.5], "orient": "top-right", "offset": 7, "title": null, "columns": 4, "symbolType": "M-1,0H4.4", "symbolStrokeWidth": 3, "symbolOpacity": 0.9, "labelFontSize": 12.6, "labelOffset": 26, "columnPadding": 13, "rowPadding": 5, "padding": 5, "fillColor": "rgba(255,255,255,0.8)", "strokeColor": "#cccccc", "cornerRadius": 3, "labelColor": "#000", "labelExpr": "'over ' + datum.label", "encode": {"symbols": {"update": {"strokeWidth": {"value": 3}, "strokeDash": {"value": []}, "fillOpacity": {"value": 0}}}}}}}},
      {"transform": [{"filter": "datum.d !== 1"}], "mark": {"type": "line", "strokeWidth": 2.2, "opacity": 0.85}, "encoding": {"stroke": {"field": "k", "type": "nominal", "scale": {"domain": [4.5,13.5,19.5,25.5,7.5,16.5,22.5,28.5,10.5], "range": ["#e6194b","#f58231","#42d4f4","#bfef45","#3cb44b","#911eb4","#f032e6","#fabed4","#4363d8"]}}}},
      {"transform": [{"filter": "datum.d > 0"}], "mark": {"type": "line", "strokeWidth": 2.2, "opacity": 0.85, "strokeDash": [7, 4]}, "encoding": {"stroke": {"field": "k", "type": "nominal", "scale": {"domain": [4.5,13.5,19.5,25.5,7.5,16.5,22.5,28.5,10.5], "range": ["#e6194b","#f58231","#42d4f4","#bfef45","#3cb44b","#911eb4","#f032e6","#fabed4","#4363d8"]}}}}
     ]},
    {"data": {"name": "rounds"}, "mark": {"type": "rule", "color": "#777777", "strokeWidth": 1, "strokeDash": [2, 3]}, "encoding": {}},
    {"data": {"name": "rounds"}, "mark": {"type": "text", "align": "left", "baseline": "top", "dx": 6, "fontSize": 17, "color": "#666666"}, "encoding": {"y": {"datum": 1.115, "type": "quantitative", "title": "Prob"}, "text": {"field": "r"}}}
  ]
},
{
  "width": 1984, "height": 313,
  "data": {"name": "truth"},
  "encoding": {"x": {"field": "t", "type": "quantitative", "title": "Fight time (seconds)", "scale": {"domain": [513, 1107], "nice": false, "zero": false}, "axis": {"values": [600, 700, 800, 900, 1000, 1100], "format": "d", "titleFontSize": 21, "titlePadding": 6}}},
  "layer": [
    {"data": {"name": "rounds"}, "mark": {"type": "rule", "color": "#777777", "strokeWidth": 1, "strokeDash": [2, 3]}, "encoding": {}},
    {"data": {"name": "rounds"}, "mark": {"type": "text", "align": "left", "baseline": "top", "dx": 6, "fontSize": 17, "color": "#666666"}, "encoding": {"y": {"datum": 7.12, "type": "quantitative", "title": "Count"}, "text": {"field": "r"}}},
    {"mark": {"type": "line", "strokeWidth": 2.8, "opacity": 0.75}, "encoding": {"y": {"field": "n", "type": "quantitative", "title": "Count", "scale": {"domain": [-0.35, 7.35], "nice": false, "zero": false}, "axis": {"values": [0,1,2,3,4,5,6,7], "tickCount": 10, "titleFontSize": 15.5, "titlePadding": 10}}, "stroke": {"field": "w", "type": "nominal", "scale": {"domain": ["Truth MICHAEL CONLAN: 6", "Truth KEVIN WALSH: 7"], "range": ["#ff0000", "#0000ff"]}, "legend": {"orient": "top-left", "offset": 6, "title": null, "symbolType": "M-1,0H5", "symbolStrokeWidth": 3, "symbolOpacity": 0.75, "labelFontSize": 14.6, "labelLimit": 0, "labelOffset": 30, "rowPadding": 8, "padding": 5.5, "fillColor": "rgba(255,255,255,0.8)", "strokeColor": "#cccccc", "cornerRadius": 3, "labelColor": "#000", "encode": {"symbols": {"update": {"strokeWidth": {"value": 3}}}}}}}}
  ]
}
]
}
